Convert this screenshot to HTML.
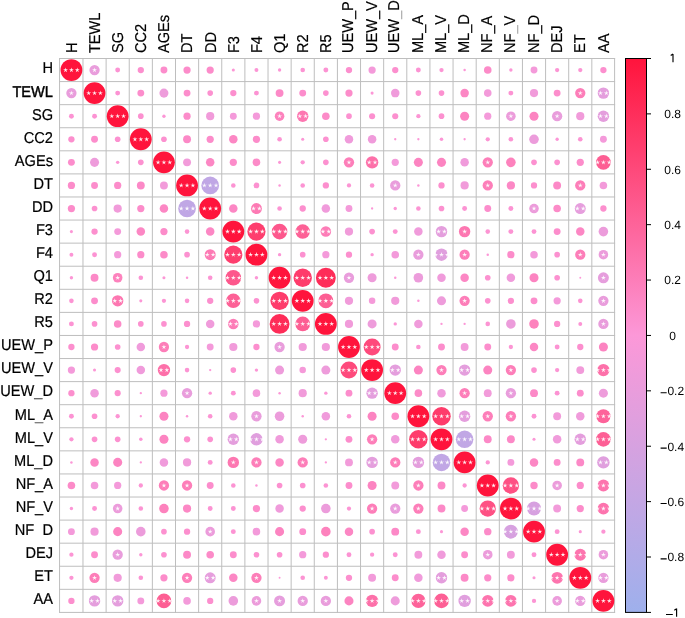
<!DOCTYPE html><html><head><meta charset="utf-8"><style>html,body{margin:0;padding:0;background:#fff;}svg{display:block;will-change:transform;}text{font-family:"Liberation Sans",sans-serif;text-rendering:geometricPrecision;}.lb{stroke:#000;stroke-width:0.2px;}</style></head><body>
<svg width="685" height="618" viewBox="0 0 685 618">
<rect width="685" height="618" fill="#fff"/>
<path d="M59.55 58.00V612.92M59.05 58.50H615.1M82.98 58.00V612.92M59.05 81.58H615.1M106.11 58.00V612.92M59.05 104.66H615.1M129.24 58.00V612.92M59.05 127.74H615.1M152.37 58.00V612.92M59.05 150.82H615.1M175.50 58.00V612.92M59.05 173.90H615.1M198.63 58.00V612.92M59.05 196.98H615.1M221.76 58.00V612.92M59.05 220.06H615.1M244.89 58.00V612.92M59.05 243.14H615.1M268.02 58.00V612.92M59.05 266.22H615.1M291.15 58.00V612.92M59.05 289.30H615.1M314.28 58.00V612.92M59.05 312.38H615.1M337.41 58.00V612.92M59.05 335.46H615.1M360.54 58.00V612.92M59.05 358.54H615.1M383.67 58.00V612.92M59.05 381.62H615.1M406.80 58.00V612.92M59.05 404.70H615.1M429.93 58.00V612.92M59.05 427.78H615.1M453.06 58.00V612.92M59.05 450.86H615.1M476.19 58.00V612.92M59.05 473.94H615.1M499.32 58.00V612.92M59.05 497.02H615.1M522.45 58.00V612.92M59.05 520.10H615.1M545.58 58.00V612.92M59.05 543.18H615.1M568.71 58.00V612.92M59.05 566.26H615.1M591.84 58.00V612.92M59.05 589.34H615.1M614.60 58.00V612.92M59.05 612.42H615.1" stroke="#bebebe" stroke-width="1" fill="none"/>
<circle cx="71.42" cy="70.04" r="10.91" fill="#ff143c"/>
<circle cx="94.55" cy="70.04" r="5.15" fill="#e99ddc"/>
<circle cx="117.67" cy="70.04" r="2.45" fill="#fc93d3"/>
<circle cx="140.81" cy="70.04" r="3.15" fill="#fc8fce"/>
<circle cx="163.94" cy="70.04" r="3.44" fill="#fc8dcc"/>
<circle cx="187.06" cy="70.04" r="3.62" fill="#fc8cca"/>
<circle cx="210.19" cy="70.04" r="3.62" fill="#fc8cca"/>
<circle cx="233.32" cy="70.04" r="1.54" fill="#fc97d6"/>
<circle cx="256.45" cy="70.04" r="1.97" fill="#fc95d5"/>
<circle cx="279.58" cy="70.04" r="1.69" fill="#fc96d6"/>
<circle cx="302.71" cy="70.04" r="2.30" fill="#fc94d3"/>
<circle cx="325.85" cy="70.04" r="2.45" fill="#fc93d3"/>
<circle cx="348.98" cy="70.04" r="3.15" fill="#fc8fce"/>
<circle cx="372.11" cy="70.04" r="3.62" fill="#f49ada"/>
<circle cx="395.24" cy="70.04" r="3.15" fill="#fc8fce"/>
<circle cx="418.37" cy="70.04" r="2.45" fill="#fc93d3"/>
<circle cx="441.50" cy="70.04" r="2.15" fill="#fc95d4"/>
<circle cx="464.62" cy="70.04" r="1.24" fill="#fc97d7"/>
<circle cx="487.75" cy="70.04" r="3.79" fill="#fc8bc8"/>
<circle cx="510.88" cy="70.04" r="1.69" fill="#fc96d6"/>
<circle cx="534.01" cy="70.04" r="3.44" fill="#f49ada"/>
<circle cx="557.14" cy="70.04" r="2.15" fill="#fc95d4"/>
<circle cx="580.27" cy="70.04" r="2.15" fill="#fc95d4"/>
<circle cx="603.40" cy="70.04" r="3.15" fill="#fc8fce"/>
<circle cx="71.42" cy="93.12" r="5.15" fill="#e99ddc"/>
<circle cx="94.55" cy="93.12" r="10.91" fill="#ff143c"/>
<circle cx="117.67" cy="93.12" r="2.45" fill="#fc93d3"/>
<circle cx="140.81" cy="93.12" r="3.44" fill="#fc8dcc"/>
<circle cx="163.94" cy="93.12" r="4.53" fill="#ee9cdb"/>
<circle cx="187.06" cy="93.12" r="3.44" fill="#fc8dcc"/>
<circle cx="210.19" cy="93.12" r="2.83" fill="#fc91d0"/>
<circle cx="233.32" cy="93.12" r="3.15" fill="#fc8fce"/>
<circle cx="256.45" cy="93.12" r="2.45" fill="#fc93d3"/>
<circle cx="279.58" cy="93.12" r="3.95" fill="#fc89c7"/>
<circle cx="302.71" cy="93.12" r="3.44" fill="#fc8dcc"/>
<circle cx="325.85" cy="93.12" r="2.83" fill="#fc91d0"/>
<circle cx="348.98" cy="93.12" r="3.62" fill="#fc8cca"/>
<circle cx="372.11" cy="93.12" r="1.54" fill="#fc97d6"/>
<circle cx="395.24" cy="93.12" r="4.25" fill="#f09bdb"/>
<circle cx="418.37" cy="93.12" r="2.83" fill="#fc91d0"/>
<circle cx="441.50" cy="93.12" r="2.83" fill="#fc91d0"/>
<circle cx="464.62" cy="93.12" r="4.25" fill="#fc87c4"/>
<circle cx="487.75" cy="93.12" r="3.79" fill="#f39ada"/>
<circle cx="510.88" cy="93.12" r="2.45" fill="#fc93d3"/>
<circle cx="534.01" cy="93.12" r="4.11" fill="#f19bda"/>
<circle cx="557.14" cy="93.12" r="3.44" fill="#fc8dcc"/>
<circle cx="580.27" cy="93.12" r="5.15" fill="#fd7eb9"/>
<circle cx="603.40" cy="93.12" r="5.70" fill="#e49edd"/>
<circle cx="71.42" cy="116.20" r="2.45" fill="#fc93d3"/>
<circle cx="94.55" cy="116.20" r="2.45" fill="#fc93d3"/>
<circle cx="117.67" cy="116.20" r="10.91" fill="#ff143c"/>
<circle cx="140.81" cy="116.20" r="2.83" fill="#fc91d0"/>
<circle cx="163.94" cy="116.20" r="1.69" fill="#fc96d6"/>
<circle cx="187.06" cy="116.20" r="3.62" fill="#fc8cca"/>
<circle cx="210.19" cy="116.20" r="4.11" fill="#f19bda"/>
<circle cx="233.32" cy="116.20" r="3.44" fill="#f49ada"/>
<circle cx="256.45" cy="116.20" r="3.62" fill="#f49ada"/>
<circle cx="279.58" cy="116.20" r="4.79" fill="#fd82bd"/>
<circle cx="302.71" cy="116.20" r="5.70" fill="#fd77b1"/>
<circle cx="325.85" cy="116.20" r="3.79" fill="#fc8bc8"/>
<circle cx="348.98" cy="116.20" r="2.83" fill="#fc91d0"/>
<circle cx="372.11" cy="116.20" r="3.05" fill="#fc90cf"/>
<circle cx="395.24" cy="116.20" r="3.05" fill="#fc90cf"/>
<circle cx="418.37" cy="116.20" r="2.15" fill="#fc95d4"/>
<circle cx="441.50" cy="116.20" r="2.83" fill="#fc91d0"/>
<circle cx="464.62" cy="116.20" r="4.53" fill="#fc84c1"/>
<circle cx="487.75" cy="116.20" r="3.62" fill="#f49ada"/>
<circle cx="510.88" cy="116.20" r="4.79" fill="#ec9cdb"/>
<circle cx="534.01" cy="116.20" r="4.53" fill="#fc84c1"/>
<circle cx="557.14" cy="116.20" r="5.15" fill="#e99ddc"/>
<circle cx="580.27" cy="116.20" r="4.11" fill="#f19bda"/>
<circle cx="603.40" cy="116.20" r="5.70" fill="#e49edd"/>
<circle cx="71.42" cy="139.28" r="3.15" fill="#fc8fce"/>
<circle cx="94.55" cy="139.28" r="3.44" fill="#fc8dcc"/>
<circle cx="117.67" cy="139.28" r="2.83" fill="#fc91d0"/>
<circle cx="140.81" cy="139.28" r="10.91" fill="#ff143c"/>
<circle cx="163.94" cy="139.28" r="2.83" fill="#fc91d0"/>
<circle cx="187.06" cy="139.28" r="3.95" fill="#fc89c7"/>
<circle cx="210.19" cy="139.28" r="3.62" fill="#fc8cca"/>
<circle cx="233.32" cy="139.28" r="4.25" fill="#fc87c4"/>
<circle cx="256.45" cy="139.28" r="3.62" fill="#fc8cca"/>
<circle cx="279.58" cy="139.28" r="2.30" fill="#fc94d3"/>
<circle cx="302.71" cy="139.28" r="1.54" fill="#fc97d6"/>
<circle cx="325.85" cy="139.28" r="2.83" fill="#fc91d0"/>
<circle cx="348.98" cy="139.28" r="4.25" fill="#f09bdb"/>
<circle cx="372.11" cy="139.28" r="4.25" fill="#f09bdb"/>
<circle cx="395.24" cy="139.28" r="1.16" fill="#fc97d7"/>
<circle cx="418.37" cy="139.28" r="1.16" fill="#fc97d7"/>
<circle cx="441.50" cy="139.28" r="1.77" fill="#fc96d6"/>
<circle cx="464.62" cy="139.28" r="1.16" fill="#fc97d7"/>
<circle cx="487.75" cy="139.28" r="2.15" fill="#fc95d4"/>
<circle cx="510.88" cy="139.28" r="2.30" fill="#fc94d3"/>
<circle cx="534.01" cy="139.28" r="4.79" fill="#ec9cdb"/>
<circle cx="557.14" cy="139.28" r="1.69" fill="#fc96d6"/>
<circle cx="580.27" cy="139.28" r="2.30" fill="#fc94d3"/>
<circle cx="603.40" cy="139.28" r="3.44" fill="#f49ada"/>
<circle cx="71.42" cy="162.36" r="3.44" fill="#fc8dcc"/>
<circle cx="94.55" cy="162.36" r="4.53" fill="#ee9cdb"/>
<circle cx="117.67" cy="162.36" r="1.69" fill="#fc96d6"/>
<circle cx="140.81" cy="162.36" r="2.83" fill="#fc91d0"/>
<circle cx="163.94" cy="162.36" r="10.91" fill="#ff143c"/>
<circle cx="187.06" cy="162.36" r="3.95" fill="#f29bda"/>
<circle cx="210.19" cy="162.36" r="4.25" fill="#fc87c4"/>
<circle cx="233.32" cy="162.36" r="3.62" fill="#fc8cca"/>
<circle cx="256.45" cy="162.36" r="3.79" fill="#fc8bc8"/>
<circle cx="279.58" cy="162.36" r="1.54" fill="#fc97d6"/>
<circle cx="302.71" cy="162.36" r="2.15" fill="#fc95d4"/>
<circle cx="325.85" cy="162.36" r="2.83" fill="#fc91d0"/>
<circle cx="348.98" cy="162.36" r="5.15" fill="#fd7eb9"/>
<circle cx="372.11" cy="162.36" r="6.20" fill="#fd70a9"/>
<circle cx="395.24" cy="162.36" r="3.62" fill="#f49ada"/>
<circle cx="418.37" cy="162.36" r="4.53" fill="#fc84c1"/>
<circle cx="441.50" cy="162.36" r="4.53" fill="#fc84c1"/>
<circle cx="464.62" cy="162.36" r="4.25" fill="#f09bdb"/>
<circle cx="487.75" cy="162.36" r="5.15" fill="#fd7eb9"/>
<circle cx="510.88" cy="162.36" r="4.79" fill="#fd82bd"/>
<circle cx="534.01" cy="162.36" r="2.83" fill="#fc91d0"/>
<circle cx="557.14" cy="162.36" r="2.83" fill="#fc91d0"/>
<circle cx="580.27" cy="162.36" r="3.62" fill="#fc8cca"/>
<circle cx="603.40" cy="162.36" r="7.40" fill="#fd5e93"/>
<circle cx="71.42" cy="185.44" r="3.62" fill="#fc8cca"/>
<circle cx="94.55" cy="185.44" r="3.44" fill="#fc8dcc"/>
<circle cx="117.67" cy="185.44" r="3.62" fill="#fc8cca"/>
<circle cx="140.81" cy="185.44" r="3.95" fill="#fc89c7"/>
<circle cx="163.94" cy="185.44" r="3.95" fill="#f29bda"/>
<circle cx="187.06" cy="185.44" r="10.91" fill="#ff143c"/>
<circle cx="210.19" cy="185.44" r="8.83" fill="#c0a7e5"/>
<circle cx="233.32" cy="185.44" r="2.30" fill="#fc94d3"/>
<circle cx="256.45" cy="185.44" r="2.83" fill="#fc91d0"/>
<circle cx="279.58" cy="185.44" r="1.24" fill="#fc97d7"/>
<circle cx="302.71" cy="185.44" r="2.30" fill="#fc94d3"/>
<circle cx="325.85" cy="185.44" r="3.15" fill="#fc8fce"/>
<circle cx="348.98" cy="185.44" r="2.15" fill="#fc95d4"/>
<circle cx="372.11" cy="185.44" r="2.30" fill="#fc94d3"/>
<circle cx="395.24" cy="185.44" r="5.15" fill="#e99ddc"/>
<circle cx="418.37" cy="185.44" r="1.24" fill="#fc97d7"/>
<circle cx="441.50" cy="185.44" r="3.15" fill="#fc8fce"/>
<circle cx="464.62" cy="185.44" r="4.11" fill="#f19bda"/>
<circle cx="487.75" cy="185.44" r="5.15" fill="#fd7eb9"/>
<circle cx="510.88" cy="185.44" r="4.11" fill="#fc88c5"/>
<circle cx="534.01" cy="185.44" r="3.15" fill="#fc8fce"/>
<circle cx="557.14" cy="185.44" r="3.95" fill="#fc89c7"/>
<circle cx="580.27" cy="185.44" r="5.15" fill="#fd7eb9"/>
<circle cx="603.40" cy="185.44" r="3.79" fill="#f39ada"/>
<circle cx="71.42" cy="208.52" r="3.62" fill="#fc8cca"/>
<circle cx="94.55" cy="208.52" r="2.83" fill="#fc91d0"/>
<circle cx="117.67" cy="208.52" r="4.11" fill="#f19bda"/>
<circle cx="140.81" cy="208.52" r="3.62" fill="#fc8cca"/>
<circle cx="163.94" cy="208.52" r="4.25" fill="#fc87c4"/>
<circle cx="187.06" cy="208.52" r="8.83" fill="#c0a7e5"/>
<circle cx="210.19" cy="208.52" r="10.91" fill="#ff143c"/>
<circle cx="233.32" cy="208.52" r="4.25" fill="#fc87c4"/>
<circle cx="256.45" cy="208.52" r="5.49" fill="#fd7ab4"/>
<circle cx="279.58" cy="208.52" r="2.30" fill="#fc94d3"/>
<circle cx="302.71" cy="208.52" r="3.15" fill="#fc8fce"/>
<circle cx="325.85" cy="208.52" r="4.25" fill="#f09bdb"/>
<circle cx="348.98" cy="208.52" r="3.44" fill="#f49ada"/>
<circle cx="372.11" cy="208.52" r="1.16" fill="#fc97d7"/>
<circle cx="395.24" cy="208.52" r="1.69" fill="#fc96d6"/>
<circle cx="418.37" cy="208.52" r="2.30" fill="#fc94d3"/>
<circle cx="441.50" cy="208.52" r="2.83" fill="#fc91d0"/>
<circle cx="464.62" cy="208.52" r="2.45" fill="#fc93d3"/>
<circle cx="487.75" cy="208.52" r="3.44" fill="#fc8dcc"/>
<circle cx="510.88" cy="208.52" r="2.45" fill="#fc93d3"/>
<circle cx="534.01" cy="208.52" r="4.79" fill="#ec9cdb"/>
<circle cx="557.14" cy="208.52" r="3.79" fill="#fc8bc8"/>
<circle cx="580.27" cy="208.52" r="5.49" fill="#e69edd"/>
<circle cx="603.40" cy="208.52" r="3.15" fill="#fc8fce"/>
<circle cx="71.42" cy="231.60" r="1.54" fill="#fc97d6"/>
<circle cx="94.55" cy="231.60" r="3.15" fill="#fc8fce"/>
<circle cx="117.67" cy="231.60" r="3.44" fill="#f49ada"/>
<circle cx="140.81" cy="231.60" r="4.25" fill="#fc87c4"/>
<circle cx="163.94" cy="231.60" r="3.62" fill="#fc8cca"/>
<circle cx="187.06" cy="231.60" r="2.30" fill="#fc94d3"/>
<circle cx="210.19" cy="231.60" r="4.25" fill="#fc87c4"/>
<circle cx="233.32" cy="231.60" r="10.91" fill="#ff143c"/>
<circle cx="256.45" cy="231.60" r="9.08" fill="#fe3e6e"/>
<circle cx="279.58" cy="231.60" r="7.79" fill="#fd578c"/>
<circle cx="302.71" cy="231.60" r="7.25" fill="#fd6196"/>
<circle cx="325.85" cy="231.60" r="5.27" fill="#fd7cb7"/>
<circle cx="348.98" cy="231.60" r="4.11" fill="#f19bda"/>
<circle cx="372.11" cy="231.60" r="2.83" fill="#fc91d0"/>
<circle cx="395.24" cy="231.60" r="2.45" fill="#fc93d3"/>
<circle cx="418.37" cy="231.60" r="4.25" fill="#f09bdb"/>
<circle cx="441.50" cy="231.60" r="5.70" fill="#e49edd"/>
<circle cx="464.62" cy="231.60" r="5.70" fill="#fd77b1"/>
<circle cx="487.75" cy="231.60" r="2.30" fill="#fc94d3"/>
<circle cx="510.88" cy="231.60" r="2.45" fill="#fc93d3"/>
<circle cx="534.01" cy="231.60" r="2.45" fill="#fc93d3"/>
<circle cx="557.14" cy="231.60" r="3.44" fill="#fc8dcc"/>
<circle cx="580.27" cy="231.60" r="4.25" fill="#fc87c4"/>
<circle cx="603.40" cy="231.60" r="4.79" fill="#ec9cdb"/>
<circle cx="71.42" cy="254.68" r="1.97" fill="#fc95d5"/>
<circle cx="94.55" cy="254.68" r="2.45" fill="#fc93d3"/>
<circle cx="117.67" cy="254.68" r="3.62" fill="#f49ada"/>
<circle cx="140.81" cy="254.68" r="3.62" fill="#fc8cca"/>
<circle cx="163.94" cy="254.68" r="3.79" fill="#fc8bc8"/>
<circle cx="187.06" cy="254.68" r="2.83" fill="#fc91d0"/>
<circle cx="210.19" cy="254.68" r="5.49" fill="#fd7ab4"/>
<circle cx="233.32" cy="254.68" r="9.08" fill="#fe3e6e"/>
<circle cx="256.45" cy="254.68" r="10.91" fill="#ff143c"/>
<circle cx="279.58" cy="254.68" r="1.69" fill="#fc96d6"/>
<circle cx="302.71" cy="254.68" r="2.83" fill="#fc91d0"/>
<circle cx="325.85" cy="254.68" r="3.62" fill="#f49ada"/>
<circle cx="348.98" cy="254.68" r="3.15" fill="#fc8fce"/>
<circle cx="372.11" cy="254.68" r="1.69" fill="#fc96d6"/>
<circle cx="395.24" cy="254.68" r="3.79" fill="#f39ada"/>
<circle cx="418.37" cy="254.68" r="5.15" fill="#e99ddc"/>
<circle cx="441.50" cy="254.68" r="6.20" fill="#e09fde"/>
<circle cx="464.62" cy="254.68" r="5.15" fill="#fd7eb9"/>
<circle cx="487.75" cy="254.68" r="1.24" fill="#fc97d7"/>
<circle cx="510.88" cy="254.68" r="3.62" fill="#fc8cca"/>
<circle cx="534.01" cy="254.68" r="3.79" fill="#f39ada"/>
<circle cx="557.14" cy="254.68" r="2.83" fill="#fc91d0"/>
<circle cx="580.27" cy="254.68" r="5.15" fill="#fd7eb9"/>
<circle cx="603.40" cy="254.68" r="4.79" fill="#ec9cdb"/>
<circle cx="71.42" cy="277.76" r="1.69" fill="#fc96d6"/>
<circle cx="94.55" cy="277.76" r="3.95" fill="#fc89c7"/>
<circle cx="117.67" cy="277.76" r="4.79" fill="#fd82bd"/>
<circle cx="140.81" cy="277.76" r="2.30" fill="#fc94d3"/>
<circle cx="163.94" cy="277.76" r="1.54" fill="#fc97d6"/>
<circle cx="187.06" cy="277.76" r="1.24" fill="#fc97d7"/>
<circle cx="210.19" cy="277.76" r="2.30" fill="#fc94d3"/>
<circle cx="233.32" cy="277.76" r="7.79" fill="#fd578c"/>
<circle cx="256.45" cy="277.76" r="1.69" fill="#fc96d6"/>
<circle cx="279.58" cy="277.76" r="10.91" fill="#ff143c"/>
<circle cx="302.71" cy="277.76" r="9.21" fill="#fe3c6b"/>
<circle cx="325.85" cy="277.76" r="9.93" fill="#fe2c58"/>
<circle cx="348.98" cy="277.76" r="5.15" fill="#e99ddc"/>
<circle cx="372.11" cy="277.76" r="4.53" fill="#ee9cdb"/>
<circle cx="395.24" cy="277.76" r="1.24" fill="#fc97d7"/>
<circle cx="418.37" cy="277.76" r="4.79" fill="#ec9cdb"/>
<circle cx="441.50" cy="277.76" r="4.25" fill="#f09bdb"/>
<circle cx="464.62" cy="277.76" r="4.25" fill="#fc87c4"/>
<circle cx="487.75" cy="277.76" r="2.83" fill="#fc91d0"/>
<circle cx="510.88" cy="277.76" r="4.25" fill="#f09bdb"/>
<circle cx="534.01" cy="277.76" r="4.53" fill="#fc84c1"/>
<circle cx="557.14" cy="277.76" r="2.83" fill="#fc91d0"/>
<circle cx="580.27" cy="277.76" r="0.97" fill="#fc98d8"/>
<circle cx="603.40" cy="277.76" r="5.49" fill="#e69edd"/>
<circle cx="71.42" cy="300.84" r="2.30" fill="#fc94d3"/>
<circle cx="94.55" cy="300.84" r="3.44" fill="#fc8dcc"/>
<circle cx="117.67" cy="300.84" r="5.70" fill="#fd77b1"/>
<circle cx="140.81" cy="300.84" r="1.54" fill="#fc97d6"/>
<circle cx="163.94" cy="300.84" r="2.15" fill="#fc95d4"/>
<circle cx="187.06" cy="300.84" r="2.30" fill="#fc94d3"/>
<circle cx="210.19" cy="300.84" r="3.15" fill="#fc8fce"/>
<circle cx="233.32" cy="300.84" r="7.25" fill="#fd6196"/>
<circle cx="256.45" cy="300.84" r="2.83" fill="#fc91d0"/>
<circle cx="279.58" cy="300.84" r="9.21" fill="#fe3c6b"/>
<circle cx="302.71" cy="300.84" r="10.91" fill="#ff143c"/>
<circle cx="325.85" cy="300.84" r="7.40" fill="#fd5e93"/>
<circle cx="348.98" cy="300.84" r="4.11" fill="#f19bda"/>
<circle cx="372.11" cy="300.84" r="3.25" fill="#f59ad9"/>
<circle cx="395.24" cy="300.84" r="4.11" fill="#f19bda"/>
<circle cx="418.37" cy="300.84" r="1.24" fill="#fc97d7"/>
<circle cx="441.50" cy="300.84" r="4.53" fill="#ee9cdb"/>
<circle cx="464.62" cy="300.84" r="5.15" fill="#fd7eb9"/>
<circle cx="487.75" cy="300.84" r="2.83" fill="#fc91d0"/>
<circle cx="510.88" cy="300.84" r="3.15" fill="#fc8fce"/>
<circle cx="534.01" cy="300.84" r="3.44" fill="#fc8dcc"/>
<circle cx="557.14" cy="300.84" r="3.62" fill="#f49ada"/>
<circle cx="580.27" cy="300.84" r="2.30" fill="#fc94d3"/>
<circle cx="603.40" cy="300.84" r="5.15" fill="#e99ddc"/>
<circle cx="71.42" cy="323.92" r="2.45" fill="#fc93d3"/>
<circle cx="94.55" cy="323.92" r="2.83" fill="#fc91d0"/>
<circle cx="117.67" cy="323.92" r="3.79" fill="#fc8bc8"/>
<circle cx="140.81" cy="323.92" r="2.83" fill="#fc91d0"/>
<circle cx="163.94" cy="323.92" r="2.83" fill="#fc91d0"/>
<circle cx="187.06" cy="323.92" r="3.15" fill="#fc8fce"/>
<circle cx="210.19" cy="323.92" r="4.25" fill="#f09bdb"/>
<circle cx="233.32" cy="323.92" r="5.27" fill="#fd7cb7"/>
<circle cx="256.45" cy="323.92" r="3.62" fill="#f49ada"/>
<circle cx="279.58" cy="323.92" r="9.93" fill="#fe2c58"/>
<circle cx="302.71" cy="323.92" r="7.40" fill="#fd5e93"/>
<circle cx="325.85" cy="323.92" r="10.91" fill="#ff143c"/>
<circle cx="348.98" cy="323.92" r="4.11" fill="#f19bda"/>
<circle cx="372.11" cy="323.92" r="4.53" fill="#ee9cdb"/>
<circle cx="395.24" cy="323.92" r="1.69" fill="#fc96d6"/>
<circle cx="418.37" cy="323.92" r="4.25" fill="#f09bdb"/>
<circle cx="441.50" cy="323.92" r="1.16" fill="#fc97d7"/>
<circle cx="464.62" cy="323.92" r="1.16" fill="#fc97d7"/>
<circle cx="487.75" cy="323.92" r="2.30" fill="#fc94d3"/>
<circle cx="510.88" cy="323.92" r="4.79" fill="#ec9cdb"/>
<circle cx="534.01" cy="323.92" r="4.79" fill="#fd82bd"/>
<circle cx="557.14" cy="323.92" r="3.15" fill="#fc8fce"/>
<circle cx="580.27" cy="323.92" r="1.97" fill="#fc95d5"/>
<circle cx="603.40" cy="323.92" r="5.15" fill="#e99ddc"/>
<circle cx="71.42" cy="347.00" r="3.15" fill="#fc8fce"/>
<circle cx="94.55" cy="347.00" r="3.62" fill="#fc8cca"/>
<circle cx="117.67" cy="347.00" r="2.83" fill="#fc91d0"/>
<circle cx="140.81" cy="347.00" r="4.25" fill="#f09bdb"/>
<circle cx="163.94" cy="347.00" r="5.15" fill="#fd7eb9"/>
<circle cx="187.06" cy="347.00" r="2.15" fill="#fc95d4"/>
<circle cx="210.19" cy="347.00" r="3.44" fill="#f49ada"/>
<circle cx="233.32" cy="347.00" r="4.11" fill="#f19bda"/>
<circle cx="256.45" cy="347.00" r="3.15" fill="#fc8fce"/>
<circle cx="279.58" cy="347.00" r="5.15" fill="#e99ddc"/>
<circle cx="302.71" cy="347.00" r="4.11" fill="#f19bda"/>
<circle cx="325.85" cy="347.00" r="4.11" fill="#f19bda"/>
<circle cx="348.98" cy="347.00" r="10.91" fill="#ff143c"/>
<circle cx="372.11" cy="347.00" r="8.49" fill="#fe4a7c"/>
<circle cx="395.24" cy="347.00" r="3.44" fill="#fc8dcc"/>
<circle cx="418.37" cy="347.00" r="2.30" fill="#fc94d3"/>
<circle cx="441.50" cy="347.00" r="3.44" fill="#fc8dcc"/>
<circle cx="464.62" cy="347.00" r="3.95" fill="#f29bda"/>
<circle cx="487.75" cy="347.00" r="3.44" fill="#fc8dcc"/>
<circle cx="510.88" cy="347.00" r="2.15" fill="#fc95d4"/>
<circle cx="534.01" cy="347.00" r="4.25" fill="#fc87c4"/>
<circle cx="557.14" cy="347.00" r="2.45" fill="#fc93d3"/>
<circle cx="580.27" cy="347.00" r="3.15" fill="#fc8fce"/>
<circle cx="603.40" cy="347.00" r="4.53" fill="#fc84c1"/>
<circle cx="71.42" cy="370.08" r="3.62" fill="#f49ada"/>
<circle cx="94.55" cy="370.08" r="1.54" fill="#fc97d6"/>
<circle cx="117.67" cy="370.08" r="3.05" fill="#fc90cf"/>
<circle cx="140.81" cy="370.08" r="4.25" fill="#f09bdb"/>
<circle cx="163.94" cy="370.08" r="6.20" fill="#fd70a9"/>
<circle cx="187.06" cy="370.08" r="2.30" fill="#fc94d3"/>
<circle cx="210.19" cy="370.08" r="1.16" fill="#fc97d7"/>
<circle cx="233.32" cy="370.08" r="2.83" fill="#fc91d0"/>
<circle cx="256.45" cy="370.08" r="1.69" fill="#fc96d6"/>
<circle cx="279.58" cy="370.08" r="4.53" fill="#ee9cdb"/>
<circle cx="302.71" cy="370.08" r="3.25" fill="#f59ad9"/>
<circle cx="325.85" cy="370.08" r="4.53" fill="#ee9cdb"/>
<circle cx="348.98" cy="370.08" r="8.49" fill="#fe4a7c"/>
<circle cx="372.11" cy="370.08" r="10.91" fill="#ff143c"/>
<circle cx="395.24" cy="370.08" r="5.70" fill="#e49edd"/>
<circle cx="418.37" cy="370.08" r="4.53" fill="#fc84c1"/>
<circle cx="441.50" cy="370.08" r="5.15" fill="#fd7eb9"/>
<circle cx="464.62" cy="370.08" r="5.70" fill="#e49edd"/>
<circle cx="487.75" cy="370.08" r="4.53" fill="#fc84c1"/>
<circle cx="510.88" cy="370.08" r="5.15" fill="#fd7eb9"/>
<circle cx="534.01" cy="370.08" r="2.83" fill="#fc91d0"/>
<circle cx="557.14" cy="370.08" r="2.15" fill="#fc95d4"/>
<circle cx="580.27" cy="370.08" r="3.95" fill="#f29bda"/>
<circle cx="603.40" cy="370.08" r="6.20" fill="#fd70a9"/>
<circle cx="71.42" cy="393.16" r="3.15" fill="#fc8fce"/>
<circle cx="94.55" cy="393.16" r="4.25" fill="#f09bdb"/>
<circle cx="117.67" cy="393.16" r="3.05" fill="#fc90cf"/>
<circle cx="140.81" cy="393.16" r="1.16" fill="#fc97d7"/>
<circle cx="163.94" cy="393.16" r="3.62" fill="#f49ada"/>
<circle cx="187.06" cy="393.16" r="5.15" fill="#e99ddc"/>
<circle cx="210.19" cy="393.16" r="1.69" fill="#fc96d6"/>
<circle cx="233.32" cy="393.16" r="2.45" fill="#fc93d3"/>
<circle cx="256.45" cy="393.16" r="3.79" fill="#f39ada"/>
<circle cx="279.58" cy="393.16" r="1.24" fill="#fc97d7"/>
<circle cx="302.71" cy="393.16" r="4.11" fill="#f19bda"/>
<circle cx="325.85" cy="393.16" r="1.69" fill="#fc96d6"/>
<circle cx="348.98" cy="393.16" r="3.44" fill="#fc8dcc"/>
<circle cx="372.11" cy="393.16" r="5.70" fill="#e49edd"/>
<circle cx="395.24" cy="393.16" r="10.91" fill="#ff143c"/>
<circle cx="418.37" cy="393.16" r="3.79" fill="#fc8bc8"/>
<circle cx="441.50" cy="393.16" r="4.25" fill="#f09bdb"/>
<circle cx="464.62" cy="393.16" r="5.15" fill="#fd7eb9"/>
<circle cx="487.75" cy="393.16" r="3.95" fill="#f29bda"/>
<circle cx="510.88" cy="393.16" r="5.15" fill="#e99ddc"/>
<circle cx="534.01" cy="393.16" r="3.95" fill="#fc89c7"/>
<circle cx="557.14" cy="393.16" r="2.45" fill="#fc93d3"/>
<circle cx="580.27" cy="393.16" r="3.44" fill="#fc8dcc"/>
<circle cx="603.40" cy="393.16" r="4.53" fill="#ee9cdb"/>
<circle cx="71.42" cy="416.24" r="2.45" fill="#fc93d3"/>
<circle cx="94.55" cy="416.24" r="2.83" fill="#fc91d0"/>
<circle cx="117.67" cy="416.24" r="2.15" fill="#fc95d4"/>
<circle cx="140.81" cy="416.24" r="1.16" fill="#fc97d7"/>
<circle cx="163.94" cy="416.24" r="4.53" fill="#fc84c1"/>
<circle cx="187.06" cy="416.24" r="1.24" fill="#fc97d7"/>
<circle cx="210.19" cy="416.24" r="2.30" fill="#fc94d3"/>
<circle cx="233.32" cy="416.24" r="4.25" fill="#f09bdb"/>
<circle cx="256.45" cy="416.24" r="5.15" fill="#e99ddc"/>
<circle cx="279.58" cy="416.24" r="4.79" fill="#ec9cdb"/>
<circle cx="302.71" cy="416.24" r="1.24" fill="#fc97d7"/>
<circle cx="325.85" cy="416.24" r="4.25" fill="#f09bdb"/>
<circle cx="348.98" cy="416.24" r="2.30" fill="#fc94d3"/>
<circle cx="372.11" cy="416.24" r="4.53" fill="#fc84c1"/>
<circle cx="395.24" cy="416.24" r="3.79" fill="#fc8bc8"/>
<circle cx="418.37" cy="416.24" r="10.91" fill="#ff143c"/>
<circle cx="441.50" cy="416.24" r="9.21" fill="#fe3c6b"/>
<circle cx="464.62" cy="416.24" r="5.70" fill="#e49edd"/>
<circle cx="487.75" cy="416.24" r="5.15" fill="#fd7eb9"/>
<circle cx="510.88" cy="416.24" r="5.15" fill="#fd7eb9"/>
<circle cx="534.01" cy="416.24" r="2.45" fill="#fc93d3"/>
<circle cx="557.14" cy="416.24" r="3.95" fill="#f29bda"/>
<circle cx="580.27" cy="416.24" r="4.25" fill="#f09bdb"/>
<circle cx="603.40" cy="416.24" r="7.08" fill="#fd639a"/>
<circle cx="71.42" cy="439.32" r="2.15" fill="#fc95d4"/>
<circle cx="94.55" cy="439.32" r="2.83" fill="#fc91d0"/>
<circle cx="117.67" cy="439.32" r="2.83" fill="#fc91d0"/>
<circle cx="140.81" cy="439.32" r="1.77" fill="#fc96d6"/>
<circle cx="163.94" cy="439.32" r="4.53" fill="#fc84c1"/>
<circle cx="187.06" cy="439.32" r="3.15" fill="#fc8fce"/>
<circle cx="210.19" cy="439.32" r="2.83" fill="#fc91d0"/>
<circle cx="233.32" cy="439.32" r="5.70" fill="#e49edd"/>
<circle cx="256.45" cy="439.32" r="6.20" fill="#e09fde"/>
<circle cx="279.58" cy="439.32" r="4.25" fill="#f09bdb"/>
<circle cx="302.71" cy="439.32" r="4.53" fill="#ee9cdb"/>
<circle cx="325.85" cy="439.32" r="1.16" fill="#fc97d7"/>
<circle cx="348.98" cy="439.32" r="3.44" fill="#fc8dcc"/>
<circle cx="372.11" cy="439.32" r="5.15" fill="#fd7eb9"/>
<circle cx="395.24" cy="439.32" r="4.25" fill="#f09bdb"/>
<circle cx="418.37" cy="439.32" r="9.21" fill="#fe3c6b"/>
<circle cx="441.50" cy="439.32" r="10.91" fill="#ff143c"/>
<circle cx="464.62" cy="439.32" r="8.76" fill="#c1a7e5"/>
<circle cx="487.75" cy="439.32" r="3.95" fill="#fc89c7"/>
<circle cx="510.88" cy="439.32" r="3.95" fill="#fc89c7"/>
<circle cx="534.01" cy="439.32" r="1.54" fill="#fc97d6"/>
<circle cx="557.14" cy="439.32" r="4.25" fill="#f09bdb"/>
<circle cx="580.27" cy="439.32" r="5.70" fill="#e49edd"/>
<circle cx="603.40" cy="439.32" r="7.33" fill="#fd5f95"/>
<circle cx="71.42" cy="462.40" r="1.24" fill="#fc97d7"/>
<circle cx="94.55" cy="462.40" r="4.25" fill="#fc87c4"/>
<circle cx="117.67" cy="462.40" r="4.53" fill="#fc84c1"/>
<circle cx="140.81" cy="462.40" r="1.16" fill="#fc97d7"/>
<circle cx="163.94" cy="462.40" r="4.25" fill="#f09bdb"/>
<circle cx="187.06" cy="462.40" r="4.11" fill="#f19bda"/>
<circle cx="210.19" cy="462.40" r="2.45" fill="#fc93d3"/>
<circle cx="233.32" cy="462.40" r="5.70" fill="#fd77b1"/>
<circle cx="256.45" cy="462.40" r="5.15" fill="#fd7eb9"/>
<circle cx="279.58" cy="462.40" r="4.25" fill="#fc87c4"/>
<circle cx="302.71" cy="462.40" r="5.15" fill="#fd7eb9"/>
<circle cx="325.85" cy="462.40" r="1.16" fill="#fc97d7"/>
<circle cx="348.98" cy="462.40" r="3.95" fill="#f29bda"/>
<circle cx="372.11" cy="462.40" r="5.70" fill="#e49edd"/>
<circle cx="395.24" cy="462.40" r="5.15" fill="#fd7eb9"/>
<circle cx="418.37" cy="462.40" r="5.70" fill="#e49edd"/>
<circle cx="441.50" cy="462.40" r="8.76" fill="#c1a7e5"/>
<circle cx="464.62" cy="462.40" r="10.91" fill="#ff143c"/>
<circle cx="487.75" cy="462.40" r="2.15" fill="#fc95d4"/>
<circle cx="510.88" cy="462.40" r="3.44" fill="#f49ada"/>
<circle cx="534.01" cy="462.40" r="4.25" fill="#fc87c4"/>
<circle cx="557.14" cy="462.40" r="3.44" fill="#fc8dcc"/>
<circle cx="580.27" cy="462.40" r="3.95" fill="#fc89c7"/>
<circle cx="603.40" cy="462.40" r="6.20" fill="#e09fde"/>
<circle cx="71.42" cy="485.48" r="3.79" fill="#fc8bc8"/>
<circle cx="94.55" cy="485.48" r="3.79" fill="#f39ada"/>
<circle cx="117.67" cy="485.48" r="3.62" fill="#f49ada"/>
<circle cx="140.81" cy="485.48" r="2.15" fill="#fc95d4"/>
<circle cx="163.94" cy="485.48" r="5.15" fill="#fd7eb9"/>
<circle cx="187.06" cy="485.48" r="5.15" fill="#fd7eb9"/>
<circle cx="210.19" cy="485.48" r="3.44" fill="#fc8dcc"/>
<circle cx="233.32" cy="485.48" r="2.30" fill="#fc94d3"/>
<circle cx="256.45" cy="485.48" r="1.24" fill="#fc97d7"/>
<circle cx="279.58" cy="485.48" r="2.83" fill="#fc91d0"/>
<circle cx="302.71" cy="485.48" r="2.83" fill="#fc91d0"/>
<circle cx="325.85" cy="485.48" r="2.30" fill="#fc94d3"/>
<circle cx="348.98" cy="485.48" r="3.44" fill="#fc8dcc"/>
<circle cx="372.11" cy="485.48" r="4.53" fill="#fc84c1"/>
<circle cx="395.24" cy="485.48" r="3.95" fill="#f29bda"/>
<circle cx="418.37" cy="485.48" r="5.15" fill="#fd7eb9"/>
<circle cx="441.50" cy="485.48" r="3.95" fill="#fc89c7"/>
<circle cx="464.62" cy="485.48" r="2.15" fill="#fc95d4"/>
<circle cx="487.75" cy="485.48" r="10.91" fill="#ff143c"/>
<circle cx="510.88" cy="485.48" r="8.15" fill="#fe5184"/>
<circle cx="534.01" cy="485.48" r="3.71" fill="#fc8bc9"/>
<circle cx="557.14" cy="485.48" r="4.79" fill="#ec9cdb"/>
<circle cx="580.27" cy="485.48" r="3.62" fill="#fc8cca"/>
<circle cx="603.40" cy="485.48" r="5.91" fill="#fd74ae"/>
<circle cx="71.42" cy="508.56" r="1.69" fill="#fc96d6"/>
<circle cx="94.55" cy="508.56" r="2.45" fill="#fc93d3"/>
<circle cx="117.67" cy="508.56" r="4.79" fill="#ec9cdb"/>
<circle cx="140.81" cy="508.56" r="2.30" fill="#fc94d3"/>
<circle cx="163.94" cy="508.56" r="4.79" fill="#fd82bd"/>
<circle cx="187.06" cy="508.56" r="4.11" fill="#fc88c5"/>
<circle cx="210.19" cy="508.56" r="2.45" fill="#fc93d3"/>
<circle cx="233.32" cy="508.56" r="2.45" fill="#fc93d3"/>
<circle cx="256.45" cy="508.56" r="3.62" fill="#fc8cca"/>
<circle cx="279.58" cy="508.56" r="4.25" fill="#f09bdb"/>
<circle cx="302.71" cy="508.56" r="3.15" fill="#fc8fce"/>
<circle cx="325.85" cy="508.56" r="4.79" fill="#ec9cdb"/>
<circle cx="348.98" cy="508.56" r="2.15" fill="#fc95d4"/>
<circle cx="372.11" cy="508.56" r="5.15" fill="#fd7eb9"/>
<circle cx="395.24" cy="508.56" r="5.15" fill="#e99ddc"/>
<circle cx="418.37" cy="508.56" r="5.15" fill="#fd7eb9"/>
<circle cx="441.50" cy="508.56" r="3.95" fill="#fc89c7"/>
<circle cx="464.62" cy="508.56" r="3.44" fill="#f49ada"/>
<circle cx="487.75" cy="508.56" r="8.15" fill="#fe5184"/>
<circle cx="510.88" cy="508.56" r="10.91" fill="#ff143c"/>
<circle cx="534.01" cy="508.56" r="7.00" fill="#d7a1e0"/>
<circle cx="557.14" cy="508.56" r="3.95" fill="#f29bda"/>
<circle cx="580.27" cy="508.56" r="3.62" fill="#fc8cca"/>
<circle cx="603.40" cy="508.56" r="5.91" fill="#fd74ae"/>
<circle cx="71.42" cy="531.64" r="3.44" fill="#f49ada"/>
<circle cx="94.55" cy="531.64" r="4.11" fill="#f19bda"/>
<circle cx="117.67" cy="531.64" r="4.53" fill="#fc84c1"/>
<circle cx="140.81" cy="531.64" r="4.79" fill="#ec9cdb"/>
<circle cx="163.94" cy="531.64" r="2.83" fill="#fc91d0"/>
<circle cx="187.06" cy="531.64" r="3.15" fill="#fc8fce"/>
<circle cx="210.19" cy="531.64" r="4.79" fill="#ec9cdb"/>
<circle cx="233.32" cy="531.64" r="2.45" fill="#fc93d3"/>
<circle cx="256.45" cy="531.64" r="3.79" fill="#f39ada"/>
<circle cx="279.58" cy="531.64" r="4.53" fill="#fc84c1"/>
<circle cx="302.71" cy="531.64" r="3.44" fill="#fc8dcc"/>
<circle cx="325.85" cy="531.64" r="4.79" fill="#fd82bd"/>
<circle cx="348.98" cy="531.64" r="4.25" fill="#fc87c4"/>
<circle cx="372.11" cy="531.64" r="2.83" fill="#fc91d0"/>
<circle cx="395.24" cy="531.64" r="3.95" fill="#fc89c7"/>
<circle cx="418.37" cy="531.64" r="2.45" fill="#fc93d3"/>
<circle cx="441.50" cy="531.64" r="1.54" fill="#fc97d6"/>
<circle cx="464.62" cy="531.64" r="4.25" fill="#fc87c4"/>
<circle cx="487.75" cy="531.64" r="3.71" fill="#fc8bc9"/>
<circle cx="510.88" cy="531.64" r="7.00" fill="#d7a1e0"/>
<circle cx="534.01" cy="531.64" r="10.91" fill="#ff143c"/>
<circle cx="557.14" cy="531.64" r="2.45" fill="#fc93d3"/>
<circle cx="580.27" cy="531.64" r="1.54" fill="#fc97d6"/>
<circle cx="603.40" cy="531.64" r="2.15" fill="#fc95d4"/>
<circle cx="71.42" cy="554.72" r="2.15" fill="#fc95d4"/>
<circle cx="94.55" cy="554.72" r="3.44" fill="#fc8dcc"/>
<circle cx="117.67" cy="554.72" r="5.15" fill="#e99ddc"/>
<circle cx="140.81" cy="554.72" r="1.69" fill="#fc96d6"/>
<circle cx="163.94" cy="554.72" r="2.83" fill="#fc91d0"/>
<circle cx="187.06" cy="554.72" r="3.95" fill="#fc89c7"/>
<circle cx="210.19" cy="554.72" r="3.79" fill="#fc8bc8"/>
<circle cx="233.32" cy="554.72" r="3.44" fill="#fc8dcc"/>
<circle cx="256.45" cy="554.72" r="2.83" fill="#fc91d0"/>
<circle cx="279.58" cy="554.72" r="2.83" fill="#fc91d0"/>
<circle cx="302.71" cy="554.72" r="3.62" fill="#f49ada"/>
<circle cx="325.85" cy="554.72" r="3.15" fill="#fc8fce"/>
<circle cx="348.98" cy="554.72" r="2.45" fill="#fc93d3"/>
<circle cx="372.11" cy="554.72" r="2.15" fill="#fc95d4"/>
<circle cx="395.24" cy="554.72" r="2.45" fill="#fc93d3"/>
<circle cx="418.37" cy="554.72" r="3.95" fill="#f29bda"/>
<circle cx="441.50" cy="554.72" r="4.25" fill="#f09bdb"/>
<circle cx="464.62" cy="554.72" r="3.44" fill="#fc8dcc"/>
<circle cx="487.75" cy="554.72" r="4.79" fill="#ec9cdb"/>
<circle cx="510.88" cy="554.72" r="3.95" fill="#f29bda"/>
<circle cx="534.01" cy="554.72" r="2.45" fill="#fc93d3"/>
<circle cx="557.14" cy="554.72" r="10.91" fill="#ff143c"/>
<circle cx="580.27" cy="554.72" r="5.91" fill="#fd74ae"/>
<circle cx="603.40" cy="554.72" r="4.79" fill="#ec9cdb"/>
<circle cx="71.42" cy="577.80" r="2.15" fill="#fc95d4"/>
<circle cx="94.55" cy="577.80" r="5.15" fill="#fd7eb9"/>
<circle cx="117.67" cy="577.80" r="4.11" fill="#f19bda"/>
<circle cx="140.81" cy="577.80" r="2.30" fill="#fc94d3"/>
<circle cx="163.94" cy="577.80" r="3.62" fill="#fc8cca"/>
<circle cx="187.06" cy="577.80" r="5.15" fill="#fd7eb9"/>
<circle cx="210.19" cy="577.80" r="5.49" fill="#e69edd"/>
<circle cx="233.32" cy="577.80" r="4.25" fill="#fc87c4"/>
<circle cx="256.45" cy="577.80" r="5.15" fill="#fd7eb9"/>
<circle cx="279.58" cy="577.80" r="0.97" fill="#fc98d8"/>
<circle cx="302.71" cy="577.80" r="2.30" fill="#fc94d3"/>
<circle cx="325.85" cy="577.80" r="1.97" fill="#fc95d5"/>
<circle cx="348.98" cy="577.80" r="3.15" fill="#fc8fce"/>
<circle cx="372.11" cy="577.80" r="3.95" fill="#f29bda"/>
<circle cx="395.24" cy="577.80" r="3.44" fill="#fc8dcc"/>
<circle cx="418.37" cy="577.80" r="4.25" fill="#f09bdb"/>
<circle cx="441.50" cy="577.80" r="5.70" fill="#e49edd"/>
<circle cx="464.62" cy="577.80" r="3.95" fill="#fc89c7"/>
<circle cx="487.75" cy="577.80" r="3.62" fill="#fc8cca"/>
<circle cx="510.88" cy="577.80" r="3.62" fill="#fc8cca"/>
<circle cx="534.01" cy="577.80" r="1.54" fill="#fc97d6"/>
<circle cx="557.14" cy="577.80" r="5.91" fill="#fd74ae"/>
<circle cx="580.27" cy="577.80" r="10.91" fill="#ff143c"/>
<circle cx="603.40" cy="577.80" r="5.15" fill="#e99ddc"/>
<circle cx="71.42" cy="600.88" r="3.15" fill="#fc8fce"/>
<circle cx="94.55" cy="600.88" r="5.70" fill="#e49edd"/>
<circle cx="117.67" cy="600.88" r="5.70" fill="#e49edd"/>
<circle cx="140.81" cy="600.88" r="3.44" fill="#f49ada"/>
<circle cx="163.94" cy="600.88" r="7.40" fill="#fd5e93"/>
<circle cx="187.06" cy="600.88" r="3.79" fill="#f39ada"/>
<circle cx="210.19" cy="600.88" r="3.15" fill="#fc8fce"/>
<circle cx="233.32" cy="600.88" r="4.79" fill="#ec9cdb"/>
<circle cx="256.45" cy="600.88" r="4.79" fill="#ec9cdb"/>
<circle cx="279.58" cy="600.88" r="5.49" fill="#e69edd"/>
<circle cx="302.71" cy="600.88" r="5.15" fill="#e99ddc"/>
<circle cx="325.85" cy="600.88" r="5.15" fill="#e99ddc"/>
<circle cx="348.98" cy="600.88" r="4.53" fill="#fc84c1"/>
<circle cx="372.11" cy="600.88" r="6.20" fill="#fd70a9"/>
<circle cx="395.24" cy="600.88" r="4.53" fill="#ee9cdb"/>
<circle cx="418.37" cy="600.88" r="7.08" fill="#fd639a"/>
<circle cx="441.50" cy="600.88" r="7.33" fill="#fd5f95"/>
<circle cx="464.62" cy="600.88" r="6.20" fill="#e09fde"/>
<circle cx="487.75" cy="600.88" r="5.91" fill="#fd74ae"/>
<circle cx="510.88" cy="600.88" r="5.91" fill="#fd74ae"/>
<circle cx="534.01" cy="600.88" r="2.15" fill="#fc95d4"/>
<circle cx="557.14" cy="600.88" r="4.79" fill="#ec9cdb"/>
<circle cx="580.27" cy="600.88" r="5.15" fill="#e99ddc"/>
<circle cx="603.40" cy="600.88" r="10.91" fill="#ff143c"/>
<path d="M65.57 67.44L66.09 69.31L68.04 69.24L66.42 70.32L67.09 72.14L65.57 70.94L64.04 72.14L64.71 70.32L63.09 69.24L65.04 69.31ZM71.42 67.44L71.94 69.31L73.89 69.24L72.27 70.32L72.94 72.14L71.42 70.94L69.89 72.14L70.56 70.32L68.94 69.24L70.89 69.31ZM77.27 67.44L77.79 69.31L79.74 69.24L78.12 70.32L78.79 72.14L77.27 70.94L75.74 72.14L76.41 70.32L74.79 69.24L76.74 69.31ZM94.55 67.44L95.07 69.31L97.02 69.24L95.40 70.32L96.07 72.14L94.55 70.94L93.02 72.14L93.69 70.32L92.07 69.24L94.02 69.31ZM71.42 90.52L71.94 92.39L73.89 92.32L72.27 93.40L72.94 95.22L71.42 94.02L69.89 95.22L70.56 93.40L68.94 92.32L70.89 92.39ZM88.70 90.52L89.22 92.39L91.17 92.32L89.55 93.40L90.22 95.22L88.70 94.02L87.17 95.22L87.84 93.40L86.22 92.32L88.17 92.39ZM94.55 90.52L95.07 92.39L97.02 92.32L95.40 93.40L96.07 95.22L94.55 94.02L93.02 95.22L93.69 93.40L92.07 92.32L94.02 92.39ZM100.39 90.52L100.92 92.39L102.87 92.32L101.25 93.40L101.92 95.22L100.39 94.02L98.87 95.22L99.54 93.40L97.92 92.32L99.87 92.39ZM580.27 90.52L580.80 92.39L582.75 92.32L581.13 93.40L581.80 95.22L580.27 94.02L578.75 95.22L579.42 93.40L577.80 92.32L579.75 92.39ZM600.48 90.52L601.01 92.39L602.95 92.32L601.34 93.40L602.01 95.22L600.48 94.02L598.95 95.22L599.62 93.40L598.01 92.32L599.95 92.39ZM606.33 90.52L606.86 92.39L608.80 92.32L607.19 93.40L607.86 95.22L606.33 94.02L604.80 95.22L605.47 93.40L603.86 92.32L605.80 92.39ZM111.83 113.60L112.35 115.47L114.30 115.40L112.68 116.48L113.35 118.30L111.83 117.10L110.30 118.30L110.97 116.48L109.35 115.40L111.30 115.47ZM117.67 113.60L118.20 115.47L120.15 115.40L118.53 116.48L119.20 118.30L117.67 117.10L116.15 118.30L116.82 116.48L115.20 115.40L117.15 115.47ZM123.52 113.60L124.05 115.47L126.00 115.40L124.38 116.48L125.05 118.30L123.52 117.10L122.00 118.30L122.67 116.48L121.05 115.40L123.00 115.47ZM279.58 113.60L280.11 115.47L282.06 115.40L280.44 116.48L281.11 118.30L279.58 117.10L278.06 118.30L278.73 116.48L277.11 115.40L279.06 115.47ZM299.79 113.60L300.32 115.47L302.26 115.40L300.65 116.48L301.32 118.30L299.79 117.10L298.26 118.30L298.93 116.48L297.32 115.40L299.26 115.47ZM305.64 113.60L306.17 115.47L308.11 115.40L306.50 116.48L307.17 118.30L305.64 117.10L304.11 118.30L304.78 116.48L303.17 115.40L305.11 115.47ZM510.88 113.60L511.41 115.47L513.36 115.40L511.74 116.48L512.41 118.30L510.88 117.10L509.36 118.30L510.03 116.48L508.41 115.40L510.36 115.47ZM557.14 113.60L557.67 115.47L559.62 115.40L558.00 116.48L558.67 118.30L557.14 117.10L555.62 118.30L556.29 116.48L554.67 115.40L556.62 115.47ZM600.48 113.60L601.01 115.47L602.95 115.40L601.34 116.48L602.01 118.30L600.48 117.10L598.95 118.30L599.62 116.48L598.01 115.40L599.95 115.47ZM606.33 113.60L606.86 115.47L608.80 115.40L607.19 116.48L607.86 118.30L606.33 117.10L604.80 118.30L605.47 116.48L603.86 115.40L605.80 115.47ZM134.96 136.68L135.48 138.55L137.43 138.48L135.81 139.56L136.48 141.38L134.96 140.18L133.43 141.38L134.10 139.56L132.48 138.48L134.43 138.55ZM140.81 136.68L141.33 138.55L143.28 138.48L141.66 139.56L142.33 141.38L140.81 140.18L139.28 141.38L139.95 139.56L138.33 138.48L140.28 138.55ZM146.66 136.68L147.18 138.55L149.13 138.48L147.51 139.56L148.18 141.38L146.66 140.18L145.13 141.38L145.80 139.56L144.18 138.48L146.13 138.55ZM158.09 159.76L158.61 161.63L160.56 161.56L158.94 162.64L159.61 164.46L158.09 163.26L156.56 164.46L157.23 162.64L155.61 161.56L157.56 161.63ZM163.94 159.76L164.46 161.63L166.41 161.56L164.79 162.64L165.46 164.46L163.94 163.26L162.41 164.46L163.08 162.64L161.46 161.56L163.41 161.63ZM169.78 159.76L170.31 161.63L172.26 161.56L170.64 162.64L171.31 164.46L169.78 163.26L168.26 164.46L168.93 162.64L167.31 161.56L169.26 161.63ZM348.98 159.76L349.50 161.63L351.45 161.56L349.83 162.64L350.50 164.46L348.98 163.26L347.45 164.46L348.12 162.64L346.50 161.56L348.45 161.63ZM369.18 159.76L369.71 161.63L371.65 161.56L370.04 162.64L370.71 164.46L369.18 163.26L367.65 164.46L368.32 162.64L366.71 161.56L368.65 161.63ZM375.03 159.76L375.56 161.63L377.50 161.56L375.89 162.64L376.56 164.46L375.03 163.26L373.50 164.46L374.17 162.64L372.56 161.56L374.50 161.63ZM487.75 159.76L488.28 161.63L490.23 161.56L488.61 162.64L489.28 164.46L487.75 163.26L486.23 164.46L486.90 162.64L485.28 161.56L487.23 161.63ZM597.55 159.76L598.08 161.63L600.03 161.56L598.41 162.64L599.08 164.46L597.55 163.26L596.03 164.46L596.70 162.64L595.08 161.56L597.03 161.63ZM603.40 159.76L603.93 161.63L605.88 161.56L604.26 162.64L604.93 164.46L603.40 163.26L601.88 164.46L602.55 162.64L600.93 161.56L602.88 161.63ZM609.25 159.76L609.78 161.63L611.73 161.56L610.11 162.64L610.78 164.46L609.25 163.26L607.73 164.46L608.40 162.64L606.78 161.56L608.73 161.63ZM181.22 182.84L181.74 184.71L183.69 184.64L182.07 185.72L182.74 187.54L181.22 186.34L179.69 187.54L180.36 185.72L178.74 184.64L180.69 184.71ZM187.06 182.84L187.59 184.71L189.54 184.64L187.92 185.72L188.59 187.54L187.06 186.34L185.54 187.54L186.21 185.72L184.59 184.64L186.54 184.71ZM192.91 182.84L193.44 184.71L195.39 184.64L193.77 185.72L194.44 187.54L192.91 186.34L191.39 187.54L192.06 185.72L190.44 184.64L192.39 184.71ZM204.34 182.84L204.87 184.71L206.82 184.64L205.20 185.72L205.87 187.54L204.34 186.34L202.82 187.54L203.49 185.72L201.87 184.64L203.82 184.71ZM210.19 182.84L210.72 184.71L212.67 184.64L211.05 185.72L211.72 187.54L210.19 186.34L208.67 187.54L209.34 185.72L207.72 184.64L209.67 184.71ZM216.04 182.84L216.57 184.71L218.52 184.64L216.90 185.72L217.57 187.54L216.04 186.34L214.52 187.54L215.19 185.72L213.57 184.64L215.52 184.71ZM395.24 182.84L395.76 184.71L397.71 184.64L396.09 185.72L396.76 187.54L395.24 186.34L393.71 187.54L394.38 185.72L392.76 184.64L394.71 184.71ZM487.75 182.84L488.28 184.71L490.23 184.64L488.61 185.72L489.28 187.54L487.75 186.34L486.23 187.54L486.90 185.72L485.28 184.64L487.23 184.71ZM580.27 182.84L580.80 184.71L582.75 184.64L581.13 185.72L581.80 187.54L580.27 186.34L578.75 187.54L579.42 185.72L577.80 184.64L579.75 184.71ZM181.22 205.92L181.74 207.79L183.69 207.72L182.07 208.80L182.74 210.62L181.22 209.42L179.69 210.62L180.36 208.80L178.74 207.72L180.69 207.79ZM187.06 205.92L187.59 207.79L189.54 207.72L187.92 208.80L188.59 210.62L187.06 209.42L185.54 210.62L186.21 208.80L184.59 207.72L186.54 207.79ZM192.91 205.92L193.44 207.79L195.39 207.72L193.77 208.80L194.44 210.62L192.91 209.42L191.39 210.62L192.06 208.80L190.44 207.72L192.39 207.79ZM204.34 205.92L204.87 207.79L206.82 207.72L205.20 208.80L205.87 210.62L204.34 209.42L202.82 210.62L203.49 208.80L201.87 207.72L203.82 207.79ZM210.19 205.92L210.72 207.79L212.67 207.72L211.05 208.80L211.72 210.62L210.19 209.42L208.67 210.62L209.34 208.80L207.72 207.72L209.67 207.79ZM216.04 205.92L216.57 207.79L218.52 207.72L216.90 208.80L217.57 210.62L216.04 209.42L214.52 210.62L215.19 208.80L213.57 207.72L215.52 207.79ZM253.53 205.92L254.06 207.79L256.00 207.72L254.39 208.80L255.06 210.62L253.53 209.42L252.00 210.62L252.67 208.80L251.06 207.72L253.00 207.79ZM259.38 205.92L259.91 207.79L261.85 207.72L260.24 208.80L260.91 210.62L259.38 209.42L257.85 210.62L258.52 208.80L256.91 207.72L258.85 207.79ZM534.01 205.92L534.54 207.79L536.49 207.72L534.87 208.80L535.54 210.62L534.01 209.42L532.49 210.62L533.16 208.80L531.54 207.72L533.49 207.79ZM577.35 205.92L577.88 207.79L579.82 207.72L578.21 208.80L578.88 210.62L577.35 209.42L575.82 210.62L576.49 208.80L574.88 207.72L576.82 207.79ZM583.20 205.92L583.73 207.79L585.67 207.72L584.06 208.80L584.73 210.62L583.20 209.42L581.67 210.62L582.34 208.80L580.73 207.72L582.67 207.79ZM227.47 229.00L228.00 230.87L229.95 230.80L228.33 231.88L229.00 233.70L227.47 232.50L225.95 233.70L226.62 231.88L225.00 230.80L226.95 230.87ZM233.32 229.00L233.85 230.87L235.80 230.80L234.18 231.88L234.85 233.70L233.32 232.50L231.80 233.70L232.47 231.88L230.85 230.80L232.80 230.87ZM239.17 229.00L239.70 230.87L241.65 230.80L240.03 231.88L240.70 233.70L239.17 232.50L237.65 233.70L238.32 231.88L236.70 230.80L238.65 230.87ZM250.60 229.00L251.13 230.87L253.08 230.80L251.46 231.88L252.13 233.70L250.60 232.50L249.08 233.70L249.75 231.88L248.13 230.80L250.08 230.87ZM256.45 229.00L256.98 230.87L258.93 230.80L257.31 231.88L257.98 233.70L256.45 232.50L254.93 233.70L255.60 231.88L253.98 230.80L255.93 230.87ZM262.31 229.00L262.83 230.87L264.78 230.80L263.16 231.88L263.83 233.70L262.31 232.50L260.78 233.70L261.45 231.88L259.83 230.80L261.78 230.87ZM273.73 229.00L274.26 230.87L276.21 230.80L274.59 231.88L275.26 233.70L273.73 232.50L272.21 233.70L272.88 231.88L271.26 230.80L273.21 230.87ZM279.58 229.00L280.11 230.87L282.06 230.80L280.44 231.88L281.11 233.70L279.58 232.50L278.06 233.70L278.73 231.88L277.11 230.80L279.06 230.87ZM285.44 229.00L285.96 230.87L287.91 230.80L286.29 231.88L286.96 233.70L285.44 232.50L283.91 233.70L284.58 231.88L282.96 230.80L284.91 230.87ZM296.86 229.00L297.39 230.87L299.34 230.80L297.72 231.88L298.39 233.70L296.86 232.50L295.34 233.70L296.01 231.88L294.39 230.80L296.34 230.87ZM302.71 229.00L303.24 230.87L305.19 230.80L303.57 231.88L304.24 233.70L302.71 232.50L301.19 233.70L301.86 231.88L300.24 230.80L302.19 230.87ZM308.56 229.00L309.09 230.87L311.04 230.80L309.42 231.88L310.09 233.70L308.56 232.50L307.04 233.70L307.71 231.88L306.09 230.80L308.04 230.87ZM322.92 229.00L323.45 230.87L325.39 230.80L323.78 231.88L324.45 233.70L322.92 232.50L321.39 233.70L322.06 231.88L320.45 230.80L322.39 230.87ZM328.77 229.00L329.30 230.87L331.24 230.80L329.63 231.88L330.30 233.70L328.77 232.50L327.24 233.70L327.91 231.88L326.30 230.80L328.24 230.87ZM438.57 229.00L439.10 230.87L441.04 230.80L439.43 231.88L440.10 233.70L438.57 232.50L437.04 233.70L437.71 231.88L436.10 230.80L438.04 230.87ZM444.42 229.00L444.95 230.87L446.89 230.80L445.28 231.88L445.95 233.70L444.42 232.50L442.89 233.70L443.56 231.88L441.95 230.80L443.89 230.87ZM464.62 229.00L465.15 230.87L467.10 230.80L465.48 231.88L466.15 233.70L464.62 232.50L463.10 233.70L463.77 231.88L462.15 230.80L464.10 230.87ZM207.27 252.08L207.80 253.95L209.74 253.88L208.13 254.96L208.80 256.78L207.27 255.58L205.74 256.78L206.41 254.96L204.80 253.88L206.74 253.95ZM213.12 252.08L213.65 253.95L215.59 253.88L213.98 254.96L214.65 256.78L213.12 255.58L211.59 256.78L212.26 254.96L210.65 253.88L212.59 253.95ZM227.47 252.08L228.00 253.95L229.95 253.88L228.33 254.96L229.00 256.78L227.47 255.58L225.95 256.78L226.62 254.96L225.00 253.88L226.95 253.95ZM233.32 252.08L233.85 253.95L235.80 253.88L234.18 254.96L234.85 256.78L233.32 255.58L231.80 256.78L232.47 254.96L230.85 253.88L232.80 253.95ZM239.17 252.08L239.70 253.95L241.65 253.88L240.03 254.96L240.70 256.78L239.17 255.58L237.65 256.78L238.32 254.96L236.70 253.88L238.65 253.95ZM250.60 252.08L251.13 253.95L253.08 253.88L251.46 254.96L252.13 256.78L250.60 255.58L249.08 256.78L249.75 254.96L248.13 253.88L250.08 253.95ZM256.45 252.08L256.98 253.95L258.93 253.88L257.31 254.96L257.98 256.78L256.45 255.58L254.93 256.78L255.60 254.96L253.98 253.88L255.93 253.95ZM262.31 252.08L262.83 253.95L264.78 253.88L263.16 254.96L263.83 256.78L262.31 255.58L260.78 256.78L261.45 254.96L259.83 253.88L261.78 253.95ZM418.37 252.08L418.89 253.95L420.84 253.88L419.22 254.96L419.89 256.78L418.37 255.58L416.84 256.78L417.51 254.96L415.89 253.88L417.84 253.95ZM435.64 252.08L436.17 253.95L438.12 253.88L436.50 254.96L437.17 256.78L435.64 255.58L434.12 256.78L434.79 254.96L433.17 253.88L435.12 253.95ZM441.50 252.08L442.02 253.95L443.97 253.88L442.35 254.96L443.02 256.78L441.50 255.58L439.97 256.78L440.64 254.96L439.02 253.88L440.97 253.95ZM447.35 252.08L447.87 253.95L449.82 253.88L448.20 254.96L448.87 256.78L447.35 255.58L445.82 256.78L446.49 254.96L444.87 253.88L446.82 253.95ZM464.62 252.08L465.15 253.95L467.10 253.88L465.48 254.96L466.15 256.78L464.62 255.58L463.10 256.78L463.77 254.96L462.15 253.88L464.10 253.95ZM580.27 252.08L580.80 253.95L582.75 253.88L581.13 254.96L581.80 256.78L580.27 255.58L578.75 256.78L579.42 254.96L577.80 253.88L579.75 253.95ZM603.40 252.08L603.93 253.95L605.88 253.88L604.26 254.96L604.93 256.78L603.40 255.58L601.88 256.78L602.55 254.96L600.93 253.88L602.88 253.95ZM117.67 275.16L118.20 277.03L120.15 276.96L118.53 278.04L119.20 279.86L117.67 278.66L116.15 279.86L116.82 278.04L115.20 276.96L117.15 277.03ZM227.47 275.16L228.00 277.03L229.95 276.96L228.33 278.04L229.00 279.86L227.47 278.66L225.95 279.86L226.62 278.04L225.00 276.96L226.95 277.03ZM233.32 275.16L233.85 277.03L235.80 276.96L234.18 278.04L234.85 279.86L233.32 278.66L231.80 279.86L232.47 278.04L230.85 276.96L232.80 277.03ZM239.17 275.16L239.70 277.03L241.65 276.96L240.03 278.04L240.70 279.86L239.17 278.66L237.65 279.86L238.32 278.04L236.70 276.96L238.65 277.03ZM273.73 275.16L274.26 277.03L276.21 276.96L274.59 278.04L275.26 279.86L273.73 278.66L272.21 279.86L272.88 278.04L271.26 276.96L273.21 277.03ZM279.58 275.16L280.11 277.03L282.06 276.96L280.44 278.04L281.11 279.86L279.58 278.66L278.06 279.86L278.73 278.04L277.11 276.96L279.06 277.03ZM285.44 275.16L285.96 277.03L287.91 276.96L286.29 278.04L286.96 279.86L285.44 278.66L283.91 279.86L284.58 278.04L282.96 276.96L284.91 277.03ZM296.86 275.16L297.39 277.03L299.34 276.96L297.72 278.04L298.39 279.86L296.86 278.66L295.34 279.86L296.01 278.04L294.39 276.96L296.34 277.03ZM302.71 275.16L303.24 277.03L305.19 276.96L303.57 278.04L304.24 279.86L302.71 278.66L301.19 279.86L301.86 278.04L300.24 276.96L302.19 277.03ZM308.56 275.16L309.09 277.03L311.04 276.96L309.42 278.04L310.09 279.86L308.56 278.66L307.04 279.86L307.71 278.04L306.09 276.96L308.04 277.03ZM320.00 275.16L320.52 277.03L322.47 276.96L320.85 278.04L321.52 279.86L320.00 278.66L318.47 279.86L319.14 278.04L317.52 276.96L319.47 277.03ZM325.85 275.16L326.37 277.03L328.32 276.96L326.70 278.04L327.37 279.86L325.85 278.66L324.32 279.86L324.99 278.04L323.37 276.96L325.32 277.03ZM331.70 275.16L332.22 277.03L334.17 276.96L332.55 278.04L333.22 279.86L331.70 278.66L330.17 279.86L330.84 278.04L329.22 276.96L331.17 277.03ZM348.98 275.16L349.50 277.03L351.45 276.96L349.83 278.04L350.50 279.86L348.98 278.66L347.45 279.86L348.12 278.04L346.50 276.96L348.45 277.03ZM603.40 275.16L603.93 277.03L605.88 276.96L604.26 278.04L604.93 279.86L603.40 278.66L601.88 279.86L602.55 278.04L600.93 276.96L602.88 277.03ZM114.75 298.24L115.28 300.11L117.22 300.04L115.61 301.12L116.28 302.94L114.75 301.74L113.22 302.94L113.89 301.12L112.28 300.04L114.22 300.11ZM120.60 298.24L121.13 300.11L123.07 300.04L121.46 301.12L122.13 302.94L120.60 301.74L119.07 302.94L119.74 301.12L118.13 300.04L120.07 300.11ZM227.47 298.24L228.00 300.11L229.95 300.04L228.33 301.12L229.00 302.94L227.47 301.74L225.95 302.94L226.62 301.12L225.00 300.04L226.95 300.11ZM233.32 298.24L233.85 300.11L235.80 300.04L234.18 301.12L234.85 302.94L233.32 301.74L231.80 302.94L232.47 301.12L230.85 300.04L232.80 300.11ZM239.17 298.24L239.70 300.11L241.65 300.04L240.03 301.12L240.70 302.94L239.17 301.74L237.65 302.94L238.32 301.12L236.70 300.04L238.65 300.11ZM273.73 298.24L274.26 300.11L276.21 300.04L274.59 301.12L275.26 302.94L273.73 301.74L272.21 302.94L272.88 301.12L271.26 300.04L273.21 300.11ZM279.58 298.24L280.11 300.11L282.06 300.04L280.44 301.12L281.11 302.94L279.58 301.74L278.06 302.94L278.73 301.12L277.11 300.04L279.06 300.11ZM285.44 298.24L285.96 300.11L287.91 300.04L286.29 301.12L286.96 302.94L285.44 301.74L283.91 302.94L284.58 301.12L282.96 300.04L284.91 300.11ZM296.86 298.24L297.39 300.11L299.34 300.04L297.72 301.12L298.39 302.94L296.86 301.74L295.34 302.94L296.01 301.12L294.39 300.04L296.34 300.11ZM302.71 298.24L303.24 300.11L305.19 300.04L303.57 301.12L304.24 302.94L302.71 301.74L301.19 302.94L301.86 301.12L300.24 300.04L302.19 300.11ZM308.56 298.24L309.09 300.11L311.04 300.04L309.42 301.12L310.09 302.94L308.56 301.74L307.04 302.94L307.71 301.12L306.09 300.04L308.04 300.11ZM320.00 298.24L320.52 300.11L322.47 300.04L320.85 301.12L321.52 302.94L320.00 301.74L318.47 302.94L319.14 301.12L317.52 300.04L319.47 300.11ZM325.85 298.24L326.37 300.11L328.32 300.04L326.70 301.12L327.37 302.94L325.85 301.74L324.32 302.94L324.99 301.12L323.37 300.04L325.32 300.11ZM331.70 298.24L332.22 300.11L334.17 300.04L332.55 301.12L333.22 302.94L331.70 301.74L330.17 302.94L330.84 301.12L329.22 300.04L331.17 300.11ZM464.62 298.24L465.15 300.11L467.10 300.04L465.48 301.12L466.15 302.94L464.62 301.74L463.10 302.94L463.77 301.12L462.15 300.04L464.10 300.11ZM603.40 298.24L603.93 300.11L605.88 300.04L604.26 301.12L604.93 302.94L603.40 301.74L601.88 302.94L602.55 301.12L600.93 300.04L602.88 300.11ZM230.40 321.32L230.93 323.19L232.87 323.12L231.26 324.20L231.93 326.02L230.40 324.82L228.87 326.02L229.54 324.20L227.93 323.12L229.87 323.19ZM236.25 321.32L236.78 323.19L238.72 323.12L237.11 324.20L237.78 326.02L236.25 324.82L234.72 326.02L235.39 324.20L233.78 323.12L235.72 323.19ZM273.73 321.32L274.26 323.19L276.21 323.12L274.59 324.20L275.26 326.02L273.73 324.82L272.21 326.02L272.88 324.20L271.26 323.12L273.21 323.19ZM279.58 321.32L280.11 323.19L282.06 323.12L280.44 324.20L281.11 326.02L279.58 324.82L278.06 326.02L278.73 324.20L277.11 323.12L279.06 323.19ZM285.44 321.32L285.96 323.19L287.91 323.12L286.29 324.20L286.96 326.02L285.44 324.82L283.91 326.02L284.58 324.20L282.96 323.12L284.91 323.19ZM296.86 321.32L297.39 323.19L299.34 323.12L297.72 324.20L298.39 326.02L296.86 324.82L295.34 326.02L296.01 324.20L294.39 323.12L296.34 323.19ZM302.71 321.32L303.24 323.19L305.19 323.12L303.57 324.20L304.24 326.02L302.71 324.82L301.19 326.02L301.86 324.20L300.24 323.12L302.19 323.19ZM308.56 321.32L309.09 323.19L311.04 323.12L309.42 324.20L310.09 326.02L308.56 324.82L307.04 326.02L307.71 324.20L306.09 323.12L308.04 323.19ZM320.00 321.32L320.52 323.19L322.47 323.12L320.85 324.20L321.52 326.02L320.00 324.82L318.47 326.02L319.14 324.20L317.52 323.12L319.47 323.19ZM325.85 321.32L326.37 323.19L328.32 323.12L326.70 324.20L327.37 326.02L325.85 324.82L324.32 326.02L324.99 324.20L323.37 323.12L325.32 323.19ZM331.70 321.32L332.22 323.19L334.17 323.12L332.55 324.20L333.22 326.02L331.70 324.82L330.17 326.02L330.84 324.20L329.22 323.12L331.17 323.19ZM603.40 321.32L603.93 323.19L605.88 323.12L604.26 324.20L604.93 326.02L603.40 324.82L601.88 326.02L602.55 324.20L600.93 323.12L602.88 323.19ZM163.94 344.40L164.46 346.27L166.41 346.20L164.79 347.28L165.46 349.10L163.94 347.90L162.41 349.10L163.08 347.28L161.46 346.20L163.41 346.27ZM279.58 344.40L280.11 346.27L282.06 346.20L280.44 347.28L281.11 349.10L279.58 347.90L278.06 349.10L278.73 347.28L277.11 346.20L279.06 346.27ZM343.12 344.40L343.65 346.27L345.60 346.20L343.98 347.28L344.65 349.10L343.12 347.90L341.60 349.10L342.27 347.28L340.65 346.20L342.60 346.27ZM348.98 344.40L349.50 346.27L351.45 346.20L349.83 347.28L350.50 349.10L348.98 347.90L347.45 349.10L348.12 347.28L346.50 346.20L348.45 346.27ZM354.83 344.40L355.35 346.27L357.30 346.20L355.68 347.28L356.35 349.10L354.83 347.90L353.30 349.10L353.97 347.28L352.35 346.20L354.30 346.27ZM366.25 344.40L366.78 346.27L368.73 346.20L367.11 347.28L367.78 349.10L366.25 347.90L364.73 349.10L365.40 347.28L363.78 346.20L365.73 346.27ZM372.11 344.40L372.63 346.27L374.58 346.20L372.96 347.28L373.63 349.10L372.11 347.90L370.58 349.10L371.25 347.28L369.63 346.20L371.58 346.27ZM377.96 344.40L378.48 346.27L380.43 346.20L378.81 347.28L379.48 349.10L377.96 347.90L376.43 349.10L377.10 347.28L375.48 346.20L377.43 346.27ZM161.01 367.48L161.54 369.35L163.48 369.28L161.87 370.36L162.54 372.18L161.01 370.98L159.48 372.18L160.15 370.36L158.54 369.28L160.48 369.35ZM166.86 367.48L167.39 369.35L169.33 369.28L167.72 370.36L168.39 372.18L166.86 370.98L165.33 372.18L166.00 370.36L164.39 369.28L166.33 369.35ZM343.12 367.48L343.65 369.35L345.60 369.28L343.98 370.36L344.65 372.18L343.12 370.98L341.60 372.18L342.27 370.36L340.65 369.28L342.60 369.35ZM348.98 367.48L349.50 369.35L351.45 369.28L349.83 370.36L350.50 372.18L348.98 370.98L347.45 372.18L348.12 370.36L346.50 369.28L348.45 369.35ZM354.83 367.48L355.35 369.35L357.30 369.28L355.68 370.36L356.35 372.18L354.83 370.98L353.30 372.18L353.97 370.36L352.35 369.28L354.30 369.35ZM366.25 367.48L366.78 369.35L368.73 369.28L367.11 370.36L367.78 372.18L366.25 370.98L364.73 372.18L365.40 370.36L363.78 369.28L365.73 369.35ZM372.11 367.48L372.63 369.35L374.58 369.28L372.96 370.36L373.63 372.18L372.11 370.98L370.58 372.18L371.25 370.36L369.63 369.28L371.58 369.35ZM377.96 367.48L378.48 369.35L380.43 369.28L378.81 370.36L379.48 372.18L377.96 370.98L376.43 372.18L377.10 370.36L375.48 369.28L377.43 369.35ZM392.31 367.48L392.84 369.35L394.78 369.28L393.17 370.36L393.84 372.18L392.31 370.98L390.78 372.18L391.45 370.36L389.84 369.28L391.78 369.35ZM398.16 367.48L398.69 369.35L400.63 369.28L399.02 370.36L399.69 372.18L398.16 370.98L396.63 372.18L397.30 370.36L395.69 369.28L397.63 369.35ZM441.50 367.48L442.02 369.35L443.97 369.28L442.35 370.36L443.02 372.18L441.50 370.98L439.97 372.18L440.64 370.36L439.02 369.28L440.97 369.35ZM461.70 367.48L462.23 369.35L464.17 369.28L462.56 370.36L463.23 372.18L461.70 370.98L460.17 372.18L460.84 370.36L459.23 369.28L461.17 369.35ZM467.55 367.48L468.08 369.35L470.02 369.28L468.41 370.36L469.08 372.18L467.55 370.98L466.02 372.18L466.69 370.36L465.08 369.28L467.02 369.35ZM510.88 367.48L511.41 369.35L513.36 369.28L511.74 370.36L512.41 372.18L510.88 370.98L509.36 372.18L510.03 370.36L508.41 369.28L510.36 369.35ZM597.55 367.48L598.08 369.35L600.03 369.28L598.41 370.36L599.08 372.18L597.55 370.98L596.03 372.18L596.70 370.36L595.08 369.28L597.03 369.35ZM603.40 367.48L603.93 369.35L605.88 369.28L604.26 370.36L604.93 372.18L603.40 370.98L601.88 372.18L602.55 370.36L600.93 369.28L602.88 369.35ZM609.25 367.48L609.78 369.35L611.73 369.28L610.11 370.36L610.78 372.18L609.25 370.98L607.73 372.18L608.40 370.36L606.78 369.28L608.73 369.35ZM187.06 390.56L187.59 392.43L189.54 392.36L187.92 393.44L188.59 395.26L187.06 394.06L185.54 395.26L186.21 393.44L184.59 392.36L186.54 392.43ZM369.18 390.56L369.71 392.43L371.65 392.36L370.04 393.44L370.71 395.26L369.18 394.06L367.65 395.26L368.32 393.44L366.71 392.36L368.65 392.43ZM375.03 390.56L375.56 392.43L377.50 392.36L375.89 393.44L376.56 395.26L375.03 394.06L373.50 395.26L374.17 393.44L372.56 392.36L374.50 392.43ZM389.38 390.56L389.91 392.43L391.86 392.36L390.24 393.44L390.91 395.26L389.38 394.06L387.86 395.26L388.53 393.44L386.91 392.36L388.86 392.43ZM395.24 390.56L395.76 392.43L397.71 392.36L396.09 393.44L396.76 395.26L395.24 394.06L393.71 395.26L394.38 393.44L392.76 392.36L394.71 392.43ZM401.09 390.56L401.61 392.43L403.56 392.36L401.94 393.44L402.61 395.26L401.09 394.06L399.56 395.26L400.23 393.44L398.61 392.36L400.56 392.43ZM464.62 390.56L465.15 392.43L467.10 392.36L465.48 393.44L466.15 395.26L464.62 394.06L463.10 395.26L463.77 393.44L462.15 392.36L464.10 392.43ZM510.88 390.56L511.41 392.43L513.36 392.36L511.74 393.44L512.41 395.26L510.88 394.06L509.36 395.26L510.03 393.44L508.41 392.36L510.36 392.43ZM256.45 413.64L256.98 415.51L258.93 415.44L257.31 416.52L257.98 418.34L256.45 417.14L254.93 418.34L255.60 416.52L253.98 415.44L255.93 415.51ZM412.51 413.64L413.04 415.51L414.99 415.44L413.37 416.52L414.04 418.34L412.51 417.14L410.99 418.34L411.66 416.52L410.04 415.44L411.99 415.51ZM418.37 413.64L418.89 415.51L420.84 415.44L419.22 416.52L419.89 418.34L418.37 417.14L416.84 418.34L417.51 416.52L415.89 415.44L417.84 415.51ZM424.22 413.64L424.74 415.51L426.69 415.44L425.07 416.52L425.74 418.34L424.22 417.14L422.69 418.34L423.36 416.52L421.74 415.44L423.69 415.51ZM435.64 413.64L436.17 415.51L438.12 415.44L436.50 416.52L437.17 418.34L435.64 417.14L434.12 418.34L434.79 416.52L433.17 415.44L435.12 415.51ZM441.50 413.64L442.02 415.51L443.97 415.44L442.35 416.52L443.02 418.34L441.50 417.14L439.97 418.34L440.64 416.52L439.02 415.44L440.97 415.51ZM447.35 413.64L447.87 415.51L449.82 415.44L448.20 416.52L448.87 418.34L447.35 417.14L445.82 418.34L446.49 416.52L444.87 415.44L446.82 415.51ZM461.70 413.64L462.23 415.51L464.17 415.44L462.56 416.52L463.23 418.34L461.70 417.14L460.17 418.34L460.84 416.52L459.23 415.44L461.17 415.51ZM467.55 413.64L468.08 415.51L470.02 415.44L468.41 416.52L469.08 418.34L467.55 417.14L466.02 418.34L466.69 416.52L465.08 415.44L467.02 415.51ZM487.75 413.64L488.28 415.51L490.23 415.44L488.61 416.52L489.28 418.34L487.75 417.14L486.23 418.34L486.90 416.52L485.28 415.44L487.23 415.51ZM510.88 413.64L511.41 415.51L513.36 415.44L511.74 416.52L512.41 418.34L510.88 417.14L509.36 418.34L510.03 416.52L508.41 415.44L510.36 415.51ZM597.55 413.64L598.08 415.51L600.03 415.44L598.41 416.52L599.08 418.34L597.55 417.14L596.03 418.34L596.70 416.52L595.08 415.44L597.03 415.51ZM603.40 413.64L603.93 415.51L605.88 415.44L604.26 416.52L604.93 418.34L603.40 417.14L601.88 418.34L602.55 416.52L600.93 415.44L602.88 415.51ZM609.25 413.64L609.78 415.51L611.73 415.44L610.11 416.52L610.78 418.34L609.25 417.14L607.73 418.34L608.40 416.52L606.78 415.44L608.73 415.51ZM230.40 436.72L230.93 438.59L232.87 438.52L231.26 439.60L231.93 441.42L230.40 440.22L228.87 441.42L229.54 439.60L227.93 438.52L229.87 438.59ZM236.25 436.72L236.78 438.59L238.72 438.52L237.11 439.60L237.78 441.42L236.25 440.22L234.72 441.42L235.39 439.60L233.78 438.52L235.72 438.59ZM250.60 436.72L251.13 438.59L253.08 438.52L251.46 439.60L252.13 441.42L250.60 440.22L249.08 441.42L249.75 439.60L248.13 438.52L250.08 438.59ZM256.45 436.72L256.98 438.59L258.93 438.52L257.31 439.60L257.98 441.42L256.45 440.22L254.93 441.42L255.60 439.60L253.98 438.52L255.93 438.59ZM262.31 436.72L262.83 438.59L264.78 438.52L263.16 439.60L263.83 441.42L262.31 440.22L260.78 441.42L261.45 439.60L259.83 438.52L261.78 438.59ZM372.11 436.72L372.63 438.59L374.58 438.52L372.96 439.60L373.63 441.42L372.11 440.22L370.58 441.42L371.25 439.60L369.63 438.52L371.58 438.59ZM412.51 436.72L413.04 438.59L414.99 438.52L413.37 439.60L414.04 441.42L412.51 440.22L410.99 441.42L411.66 439.60L410.04 438.52L411.99 438.59ZM418.37 436.72L418.89 438.59L420.84 438.52L419.22 439.60L419.89 441.42L418.37 440.22L416.84 441.42L417.51 439.60L415.89 438.52L417.84 438.59ZM424.22 436.72L424.74 438.59L426.69 438.52L425.07 439.60L425.74 441.42L424.22 440.22L422.69 441.42L423.36 439.60L421.74 438.52L423.69 438.59ZM435.64 436.72L436.17 438.59L438.12 438.52L436.50 439.60L437.17 441.42L435.64 440.22L434.12 441.42L434.79 439.60L433.17 438.52L435.12 438.59ZM441.50 436.72L442.02 438.59L443.97 438.52L442.35 439.60L443.02 441.42L441.50 440.22L439.97 441.42L440.64 439.60L439.02 438.52L440.97 438.59ZM447.35 436.72L447.87 438.59L449.82 438.52L448.20 439.60L448.87 441.42L447.35 440.22L445.82 441.42L446.49 439.60L444.87 438.52L446.82 438.59ZM458.77 436.72L459.30 438.59L461.25 438.52L459.63 439.60L460.30 441.42L458.77 440.22L457.25 441.42L457.92 439.60L456.30 438.52L458.25 438.59ZM464.62 436.72L465.15 438.59L467.10 438.52L465.48 439.60L466.15 441.42L464.62 440.22L463.10 441.42L463.77 439.60L462.15 438.52L464.10 438.59ZM470.48 436.72L471.00 438.59L472.95 438.52L471.33 439.60L472.00 441.42L470.48 440.22L468.95 441.42L469.62 439.60L468.00 438.52L469.95 438.59ZM577.35 436.72L577.88 438.59L579.82 438.52L578.21 439.60L578.88 441.42L577.35 440.22L575.82 441.42L576.49 439.60L574.88 438.52L576.82 438.59ZM583.20 436.72L583.73 438.59L585.67 438.52L584.06 439.60L584.73 441.42L583.20 440.22L581.67 441.42L582.34 439.60L580.73 438.52L582.67 438.59ZM597.55 436.72L598.08 438.59L600.03 438.52L598.41 439.60L599.08 441.42L597.55 440.22L596.03 441.42L596.70 439.60L595.08 438.52L597.03 438.59ZM603.40 436.72L603.93 438.59L605.88 438.52L604.26 439.60L604.93 441.42L603.40 440.22L601.88 441.42L602.55 439.60L600.93 438.52L602.88 438.59ZM609.25 436.72L609.78 438.59L611.73 438.52L610.11 439.60L610.78 441.42L609.25 440.22L607.73 441.42L608.40 439.60L606.78 438.52L608.73 438.59ZM233.32 459.80L233.85 461.67L235.80 461.60L234.18 462.68L234.85 464.50L233.32 463.30L231.80 464.50L232.47 462.68L230.85 461.60L232.80 461.67ZM256.45 459.80L256.98 461.67L258.93 461.60L257.31 462.68L257.98 464.50L256.45 463.30L254.93 464.50L255.60 462.68L253.98 461.60L255.93 461.67ZM302.71 459.80L303.24 461.67L305.19 461.60L303.57 462.68L304.24 464.50L302.71 463.30L301.19 464.50L301.86 462.68L300.24 461.60L302.19 461.67ZM369.18 459.80L369.71 461.67L371.65 461.60L370.04 462.68L370.71 464.50L369.18 463.30L367.65 464.50L368.32 462.68L366.71 461.60L368.65 461.67ZM375.03 459.80L375.56 461.67L377.50 461.60L375.89 462.68L376.56 464.50L375.03 463.30L373.50 464.50L374.17 462.68L372.56 461.60L374.50 461.67ZM395.24 459.80L395.76 461.67L397.71 461.60L396.09 462.68L396.76 464.50L395.24 463.30L393.71 464.50L394.38 462.68L392.76 461.60L394.71 461.67ZM415.44 459.80L415.97 461.67L417.91 461.60L416.30 462.68L416.97 464.50L415.44 463.30L413.91 464.50L414.58 462.68L412.97 461.60L414.91 461.67ZM421.29 459.80L421.82 461.67L423.76 461.60L422.15 462.68L422.82 464.50L421.29 463.30L419.76 464.50L420.43 462.68L418.82 461.60L420.76 461.67ZM435.64 459.80L436.17 461.67L438.12 461.60L436.50 462.68L437.17 464.50L435.64 463.30L434.12 464.50L434.79 462.68L433.17 461.60L435.12 461.67ZM441.50 459.80L442.02 461.67L443.97 461.60L442.35 462.68L443.02 464.50L441.50 463.30L439.97 464.50L440.64 462.68L439.02 461.60L440.97 461.67ZM447.35 459.80L447.87 461.67L449.82 461.60L448.20 462.68L448.87 464.50L447.35 463.30L445.82 464.50L446.49 462.68L444.87 461.60L446.82 461.67ZM458.77 459.80L459.30 461.67L461.25 461.60L459.63 462.68L460.30 464.50L458.77 463.30L457.25 464.50L457.92 462.68L456.30 461.60L458.25 461.67ZM464.62 459.80L465.15 461.67L467.10 461.60L465.48 462.68L466.15 464.50L464.62 463.30L463.10 464.50L463.77 462.68L462.15 461.60L464.10 461.67ZM470.48 459.80L471.00 461.67L472.95 461.60L471.33 462.68L472.00 464.50L470.48 463.30L468.95 464.50L469.62 462.68L468.00 461.60L469.95 461.67ZM600.48 459.80L601.01 461.67L602.95 461.60L601.34 462.68L602.01 464.50L600.48 463.30L598.95 464.50L599.62 462.68L598.01 461.60L599.95 461.67ZM606.33 459.80L606.86 461.67L608.80 461.60L607.19 462.68L607.86 464.50L606.33 463.30L604.80 464.50L605.47 462.68L603.86 461.60L605.80 461.67ZM163.94 482.88L164.46 484.75L166.41 484.68L164.79 485.76L165.46 487.58L163.94 486.38L162.41 487.58L163.08 485.76L161.46 484.68L163.41 484.75ZM187.06 482.88L187.59 484.75L189.54 484.68L187.92 485.76L188.59 487.58L187.06 486.38L185.54 487.58L186.21 485.76L184.59 484.68L186.54 484.75ZM418.37 482.88L418.89 484.75L420.84 484.68L419.22 485.76L419.89 487.58L418.37 486.38L416.84 487.58L417.51 485.76L415.89 484.68L417.84 484.75ZM481.90 482.88L482.43 484.75L484.38 484.68L482.76 485.76L483.43 487.58L481.90 486.38L480.38 487.58L481.05 485.76L479.43 484.68L481.38 484.75ZM487.75 482.88L488.28 484.75L490.23 484.68L488.61 485.76L489.28 487.58L487.75 486.38L486.23 487.58L486.90 485.76L485.28 484.68L487.23 484.75ZM493.61 482.88L494.13 484.75L496.08 484.68L494.46 485.76L495.13 487.58L493.61 486.38L492.08 487.58L492.75 485.76L491.13 484.68L493.08 484.75ZM505.03 482.88L505.56 484.75L507.51 484.68L505.89 485.76L506.56 487.58L505.03 486.38L503.51 487.58L504.18 485.76L502.56 484.68L504.51 484.75ZM510.88 482.88L511.41 484.75L513.36 484.68L511.74 485.76L512.41 487.58L510.88 486.38L509.36 487.58L510.03 485.76L508.41 484.68L510.36 484.75ZM516.74 482.88L517.26 484.75L519.21 484.68L517.59 485.76L518.26 487.58L516.74 486.38L515.21 487.58L515.88 485.76L514.26 484.68L516.21 484.75ZM557.14 482.88L557.67 484.75L559.62 484.68L558.00 485.76L558.67 487.58L557.14 486.38L555.62 487.58L556.29 485.76L554.67 484.68L556.62 484.75ZM597.55 482.88L598.08 484.75L600.03 484.68L598.41 485.76L599.08 487.58L597.55 486.38L596.03 487.58L596.70 485.76L595.08 484.68L597.03 484.75ZM603.40 482.88L603.93 484.75L605.88 484.68L604.26 485.76L604.93 487.58L603.40 486.38L601.88 487.58L602.55 485.76L600.93 484.68L602.88 484.75ZM609.25 482.88L609.78 484.75L611.73 484.68L610.11 485.76L610.78 487.58L609.25 486.38L607.73 487.58L608.40 485.76L606.78 484.68L608.73 484.75ZM117.67 505.96L118.20 507.83L120.15 507.76L118.53 508.84L119.20 510.66L117.67 509.46L116.15 510.66L116.82 508.84L115.20 507.76L117.15 507.83ZM372.11 505.96L372.63 507.83L374.58 507.76L372.96 508.84L373.63 510.66L372.11 509.46L370.58 510.66L371.25 508.84L369.63 507.76L371.58 507.83ZM395.24 505.96L395.76 507.83L397.71 507.76L396.09 508.84L396.76 510.66L395.24 509.46L393.71 510.66L394.38 508.84L392.76 507.76L394.71 507.83ZM418.37 505.96L418.89 507.83L420.84 507.76L419.22 508.84L419.89 510.66L418.37 509.46L416.84 510.66L417.51 508.84L415.89 507.76L417.84 507.83ZM481.90 505.96L482.43 507.83L484.38 507.76L482.76 508.84L483.43 510.66L481.90 509.46L480.38 510.66L481.05 508.84L479.43 507.76L481.38 507.83ZM487.75 505.96L488.28 507.83L490.23 507.76L488.61 508.84L489.28 510.66L487.75 509.46L486.23 510.66L486.90 508.84L485.28 507.76L487.23 507.83ZM493.61 505.96L494.13 507.83L496.08 507.76L494.46 508.84L495.13 510.66L493.61 509.46L492.08 510.66L492.75 508.84L491.13 507.76L493.08 507.83ZM505.03 505.96L505.56 507.83L507.51 507.76L505.89 508.84L506.56 510.66L505.03 509.46L503.51 510.66L504.18 508.84L502.56 507.76L504.51 507.83ZM510.88 505.96L511.41 507.83L513.36 507.76L511.74 508.84L512.41 510.66L510.88 509.46L509.36 510.66L510.03 508.84L508.41 507.76L510.36 507.83ZM516.74 505.96L517.26 507.83L519.21 507.76L517.59 508.84L518.26 510.66L516.74 509.46L515.21 510.66L515.88 508.84L514.26 507.76L516.21 507.83ZM528.16 505.96L528.69 507.83L530.64 507.76L529.02 508.84L529.69 510.66L528.16 509.46L526.64 510.66L527.31 508.84L525.69 507.76L527.64 507.83ZM534.01 505.96L534.54 507.83L536.49 507.76L534.87 508.84L535.54 510.66L534.01 509.46L532.49 510.66L533.16 508.84L531.54 507.76L533.49 507.83ZM539.87 505.96L540.39 507.83L542.34 507.76L540.72 508.84L541.39 510.66L539.87 509.46L538.34 510.66L539.01 508.84L537.39 507.76L539.34 507.83ZM597.55 505.96L598.08 507.83L600.03 507.76L598.41 508.84L599.08 510.66L597.55 509.46L596.03 510.66L596.70 508.84L595.08 507.76L597.03 507.83ZM603.40 505.96L603.93 507.83L605.88 507.76L604.26 508.84L604.93 510.66L603.40 509.46L601.88 510.66L602.55 508.84L600.93 507.76L602.88 507.83ZM609.25 505.96L609.78 507.83L611.73 507.76L610.11 508.84L610.78 510.66L609.25 509.46L607.73 510.66L608.40 508.84L606.78 507.76L608.73 507.83ZM210.19 529.04L210.72 530.91L212.67 530.84L211.05 531.92L211.72 533.74L210.19 532.54L208.67 533.74L209.34 531.92L207.72 530.84L209.67 530.91ZM505.03 529.04L505.56 530.91L507.51 530.84L505.89 531.92L506.56 533.74L505.03 532.54L503.51 533.74L504.18 531.92L502.56 530.84L504.51 530.91ZM510.88 529.04L511.41 530.91L513.36 530.84L511.74 531.92L512.41 533.74L510.88 532.54L509.36 533.74L510.03 531.92L508.41 530.84L510.36 530.91ZM516.74 529.04L517.26 530.91L519.21 530.84L517.59 531.92L518.26 533.74L516.74 532.54L515.21 533.74L515.88 531.92L514.26 530.84L516.21 530.91ZM528.16 529.04L528.69 530.91L530.64 530.84L529.02 531.92L529.69 533.74L528.16 532.54L526.64 533.74L527.31 531.92L525.69 530.84L527.64 530.91ZM534.01 529.04L534.54 530.91L536.49 530.84L534.87 531.92L535.54 533.74L534.01 532.54L532.49 533.74L533.16 531.92L531.54 530.84L533.49 530.91ZM539.87 529.04L540.39 530.91L542.34 530.84L540.72 531.92L541.39 533.74L539.87 532.54L538.34 533.74L539.01 531.92L537.39 530.84L539.34 530.91ZM117.67 552.12L118.20 553.99L120.15 553.92L118.53 555.00L119.20 556.82L117.67 555.62L116.15 556.82L116.82 555.00L115.20 553.92L117.15 553.99ZM487.75 552.12L488.28 553.99L490.23 553.92L488.61 555.00L489.28 556.82L487.75 555.62L486.23 556.82L486.90 555.00L485.28 553.92L487.23 553.99ZM551.29 552.12L551.82 553.99L553.77 553.92L552.15 555.00L552.82 556.82L551.29 555.62L549.77 556.82L550.44 555.00L548.82 553.92L550.77 553.99ZM557.14 552.12L557.67 553.99L559.62 553.92L558.00 555.00L558.67 556.82L557.14 555.62L555.62 556.82L556.29 555.00L554.67 553.92L556.62 553.99ZM563.00 552.12L563.52 553.99L565.47 553.92L563.85 555.00L564.52 556.82L563.00 555.62L561.47 556.82L562.14 555.00L560.52 553.92L562.47 553.99ZM574.42 552.12L574.95 553.99L576.90 553.92L575.28 555.00L575.95 556.82L574.42 555.62L572.90 556.82L573.57 555.00L571.95 553.92L573.90 553.99ZM580.27 552.12L580.80 553.99L582.75 553.92L581.13 555.00L581.80 556.82L580.27 555.62L578.75 556.82L579.42 555.00L577.80 553.92L579.75 553.99ZM586.12 552.12L586.65 553.99L588.60 553.92L586.98 555.00L587.65 556.82L586.12 555.62L584.60 556.82L585.27 555.00L583.65 553.92L585.60 553.99ZM603.40 552.12L603.93 553.99L605.88 553.92L604.26 555.00L604.93 556.82L603.40 555.62L601.88 556.82L602.55 555.00L600.93 553.92L602.88 553.99ZM94.55 575.20L95.07 577.07L97.02 577.00L95.40 578.08L96.07 579.90L94.55 578.70L93.02 579.90L93.69 578.08L92.07 577.00L94.02 577.07ZM187.06 575.20L187.59 577.07L189.54 577.00L187.92 578.08L188.59 579.90L187.06 578.70L185.54 579.90L186.21 578.08L184.59 577.00L186.54 577.07ZM207.27 575.20L207.80 577.07L209.74 577.00L208.13 578.08L208.80 579.90L207.27 578.70L205.74 579.90L206.41 578.08L204.80 577.00L206.74 577.07ZM213.12 575.20L213.65 577.07L215.59 577.00L213.98 578.08L214.65 579.90L213.12 578.70L211.59 579.90L212.26 578.08L210.65 577.00L212.59 577.07ZM256.45 575.20L256.98 577.07L258.93 577.00L257.31 578.08L257.98 579.90L256.45 578.70L254.93 579.90L255.60 578.08L253.98 577.00L255.93 577.07ZM438.57 575.20L439.10 577.07L441.04 577.00L439.43 578.08L440.10 579.90L438.57 578.70L437.04 579.90L437.71 578.08L436.10 577.00L438.04 577.07ZM444.42 575.20L444.95 577.07L446.89 577.00L445.28 578.08L445.95 579.90L444.42 578.70L442.89 579.90L443.56 578.08L441.95 577.00L443.89 577.07ZM551.29 575.20L551.82 577.07L553.77 577.00L552.15 578.08L552.82 579.90L551.29 578.70L549.77 579.90L550.44 578.08L548.82 577.00L550.77 577.07ZM557.14 575.20L557.67 577.07L559.62 577.00L558.00 578.08L558.67 579.90L557.14 578.70L555.62 579.90L556.29 578.08L554.67 577.00L556.62 577.07ZM563.00 575.20L563.52 577.07L565.47 577.00L563.85 578.08L564.52 579.90L563.00 578.70L561.47 579.90L562.14 578.08L560.52 577.00L562.47 577.07ZM574.42 575.20L574.95 577.07L576.90 577.00L575.28 578.08L575.95 579.90L574.42 578.70L572.90 579.90L573.57 578.08L571.95 577.00L573.90 577.07ZM580.27 575.20L580.80 577.07L582.75 577.00L581.13 578.08L581.80 579.90L580.27 578.70L578.75 579.90L579.42 578.08L577.80 577.00L579.75 577.07ZM586.12 575.20L586.65 577.07L588.60 577.00L586.98 578.08L587.65 579.90L586.12 578.70L584.60 579.90L585.27 578.08L583.65 577.00L585.60 577.07ZM600.48 575.20L601.01 577.07L602.95 577.00L601.34 578.08L602.01 579.90L600.48 578.70L598.95 579.90L599.62 578.08L598.01 577.00L599.95 577.07ZM606.33 575.20L606.86 577.07L608.80 577.00L607.19 578.08L607.86 579.90L606.33 578.70L604.80 579.90L605.47 578.08L603.86 577.00L605.80 577.07ZM91.62 598.28L92.15 600.15L94.09 600.08L92.48 601.16L93.15 602.98L91.62 601.78L90.09 602.98L90.76 601.16L89.15 600.08L91.09 600.15ZM97.47 598.28L98.00 600.15L99.94 600.08L98.33 601.16L99.00 602.98L97.47 601.78L95.94 602.98L96.61 601.16L95.00 600.08L96.94 600.15ZM114.75 598.28L115.28 600.15L117.22 600.08L115.61 601.16L116.28 602.98L114.75 601.78L113.22 602.98L113.89 601.16L112.28 600.08L114.22 600.15ZM120.60 598.28L121.13 600.15L123.07 600.08L121.46 601.16L122.13 602.98L120.60 601.78L119.07 602.98L119.74 601.16L118.13 600.08L120.07 600.15ZM158.09 598.28L158.61 600.15L160.56 600.08L158.94 601.16L159.61 602.98L158.09 601.78L156.56 602.98L157.23 601.16L155.61 600.08L157.56 600.15ZM163.94 598.28L164.46 600.15L166.41 600.08L164.79 601.16L165.46 602.98L163.94 601.78L162.41 602.98L163.08 601.16L161.46 600.08L163.41 600.15ZM169.78 598.28L170.31 600.15L172.26 600.08L170.64 601.16L171.31 602.98L169.78 601.78L168.26 602.98L168.93 601.16L167.31 600.08L169.26 600.15ZM256.45 598.28L256.98 600.15L258.93 600.08L257.31 601.16L257.98 602.98L256.45 601.78L254.93 602.98L255.60 601.16L253.98 600.08L255.93 600.15ZM279.58 598.28L280.11 600.15L282.06 600.08L280.44 601.16L281.11 602.98L279.58 601.78L278.06 602.98L278.73 601.16L277.11 600.08L279.06 600.15ZM302.71 598.28L303.24 600.15L305.19 600.08L303.57 601.16L304.24 602.98L302.71 601.78L301.19 602.98L301.86 601.16L300.24 600.08L302.19 600.15ZM325.85 598.28L326.37 600.15L328.32 600.08L326.70 601.16L327.37 602.98L325.85 601.78L324.32 602.98L324.99 601.16L323.37 600.08L325.32 600.15ZM366.25 598.28L366.78 600.15L368.73 600.08L367.11 601.16L367.78 602.98L366.25 601.78L364.73 602.98L365.40 601.16L363.78 600.08L365.73 600.15ZM372.11 598.28L372.63 600.15L374.58 600.08L372.96 601.16L373.63 602.98L372.11 601.78L370.58 602.98L371.25 601.16L369.63 600.08L371.58 600.15ZM377.96 598.28L378.48 600.15L380.43 600.08L378.81 601.16L379.48 602.98L377.96 601.78L376.43 602.98L377.10 601.16L375.48 600.08L377.43 600.15ZM412.51 598.28L413.04 600.15L414.99 600.08L413.37 601.16L414.04 602.98L412.51 601.78L410.99 602.98L411.66 601.16L410.04 600.08L411.99 600.15ZM418.37 598.28L418.89 600.15L420.84 600.08L419.22 601.16L419.89 602.98L418.37 601.78L416.84 602.98L417.51 601.16L415.89 600.08L417.84 600.15ZM424.22 598.28L424.74 600.15L426.69 600.08L425.07 601.16L425.74 602.98L424.22 601.78L422.69 602.98L423.36 601.16L421.74 600.08L423.69 600.15ZM435.64 598.28L436.17 600.15L438.12 600.08L436.50 601.16L437.17 602.98L435.64 601.78L434.12 602.98L434.79 601.16L433.17 600.08L435.12 600.15ZM441.50 598.28L442.02 600.15L443.97 600.08L442.35 601.16L443.02 602.98L441.50 601.78L439.97 602.98L440.64 601.16L439.02 600.08L440.97 600.15ZM447.35 598.28L447.87 600.15L449.82 600.08L448.20 601.16L448.87 602.98L447.35 601.78L445.82 602.98L446.49 601.16L444.87 600.08L446.82 600.15ZM461.70 598.28L462.23 600.15L464.17 600.08L462.56 601.16L463.23 602.98L461.70 601.78L460.17 602.98L460.84 601.16L459.23 600.08L461.17 600.15ZM467.55 598.28L468.08 600.15L470.02 600.08L468.41 601.16L469.08 602.98L467.55 601.78L466.02 602.98L466.69 601.16L465.08 600.08L467.02 600.15ZM481.90 598.28L482.43 600.15L484.38 600.08L482.76 601.16L483.43 602.98L481.90 601.78L480.38 602.98L481.05 601.16L479.43 600.08L481.38 600.15ZM487.75 598.28L488.28 600.15L490.23 600.08L488.61 601.16L489.28 602.98L487.75 601.78L486.23 602.98L486.90 601.16L485.28 600.08L487.23 600.15ZM493.61 598.28L494.13 600.15L496.08 600.08L494.46 601.16L495.13 602.98L493.61 601.78L492.08 602.98L492.75 601.16L491.13 600.08L493.08 600.15ZM505.03 598.28L505.56 600.15L507.51 600.08L505.89 601.16L506.56 602.98L505.03 601.78L503.51 602.98L504.18 601.16L502.56 600.08L504.51 600.15ZM510.88 598.28L511.41 600.15L513.36 600.08L511.74 601.16L512.41 602.98L510.88 601.78L509.36 602.98L510.03 601.16L508.41 600.08L510.36 600.15ZM516.74 598.28L517.26 600.15L519.21 600.08L517.59 601.16L518.26 602.98L516.74 601.78L515.21 602.98L515.88 601.16L514.26 600.08L516.21 600.15ZM557.14 598.28L557.67 600.15L559.62 600.08L558.00 601.16L558.67 602.98L557.14 601.78L555.62 602.98L556.29 601.16L554.67 600.08L556.62 600.15ZM577.35 598.28L577.88 600.15L579.82 600.08L578.21 601.16L578.88 602.98L577.35 601.78L575.82 602.98L576.49 601.16L574.88 600.08L576.82 600.15ZM583.20 598.28L583.73 600.15L585.67 600.08L584.06 601.16L584.73 602.98L583.20 601.78L581.67 602.98L582.34 601.16L580.73 600.08L582.67 600.15ZM597.55 598.28L598.08 600.15L600.03 600.08L598.41 601.16L599.08 602.98L597.55 601.78L596.03 602.98L596.70 601.16L595.08 600.08L597.03 600.15ZM603.40 598.28L603.93 600.15L605.88 600.08L604.26 601.16L604.93 602.98L603.40 601.78L601.88 602.98L602.55 601.16L600.93 600.08L602.88 600.15ZM609.25 598.28L609.78 600.15L611.73 600.08L610.11 601.16L610.78 602.98L609.25 601.78L607.73 602.98L608.40 601.16L606.78 600.08L608.73 600.15Z" fill="#fff" fill-opacity="0.92"/>
<text transform="translate(53,73.34) scale(0.9315,1)" font-size="15.7" text-anchor="end" class="lb">H</text>
<text transform="translate(53,97.02) scale(0.9315,1)" font-size="15.7" text-anchor="end" class="lb" style="stroke-width:0.45px">TEWL</text>
<text transform="translate(53,119.50) scale(0.9315,1)" font-size="15.7" text-anchor="end" class="lb">SG</text>
<text transform="translate(53,142.58) scale(0.9315,1)" font-size="15.7" text-anchor="end" class="lb">CC2</text>
<text transform="translate(53,165.66) scale(0.9315,1)" font-size="15.7" text-anchor="end" class="lb">AGEs</text>
<text transform="translate(53,188.74) scale(0.9315,1)" font-size="15.7" text-anchor="end" class="lb">DT</text>
<text transform="translate(53,211.82) scale(0.9315,1)" font-size="15.7" text-anchor="end" class="lb">DD</text>
<text transform="translate(53,234.90) scale(0.9315,1)" font-size="15.7" text-anchor="end" class="lb">F3</text>
<text transform="translate(53,257.98) scale(0.9315,1)" font-size="15.7" text-anchor="end" class="lb">F4</text>
<text transform="translate(53,281.06) scale(0.9315,1)" font-size="15.7" text-anchor="end" class="lb">Q1</text>
<text transform="translate(53,304.14) scale(0.9315,1)" font-size="15.7" text-anchor="end" class="lb">R2</text>
<text transform="translate(53,327.22) scale(0.9315,1)" font-size="15.7" text-anchor="end" class="lb">R5</text>
<text transform="translate(53,350.30) scale(0.9315,1)" font-size="15.7" text-anchor="end" class="lb">UEW_P</text>
<text transform="translate(53,373.38) scale(0.9315,1)" font-size="15.7" text-anchor="end" class="lb">UEW_V</text>
<text transform="translate(53,396.46) scale(0.9315,1)" font-size="15.7" text-anchor="end" class="lb">UEW<tspan fill-opacity="0.6" stroke-opacity="0.6">_</tspan>D</text>
<text transform="translate(53,419.54) scale(0.9315,1)" font-size="15.7" text-anchor="end" class="lb">ML<tspan fill-opacity="0.5" stroke-opacity="0.5">_</tspan>A</text>
<text transform="translate(53,442.62) scale(0.9315,1)" font-size="15.7" text-anchor="end" class="lb">ML_V</text>
<text transform="translate(53,465.70) scale(0.9315,1)" font-size="15.7" text-anchor="end" class="lb">ML<tspan fill-opacity="0.7" stroke-opacity="0.7">_</tspan>D</text>
<text transform="translate(53,488.78) scale(0.9315,1)" font-size="15.7" text-anchor="end" class="lb">NF_A</text>
<text transform="translate(53,511.86) scale(0.9315,1)" font-size="15.7" text-anchor="end" class="lb">NF_V</text>
<text transform="translate(53,534.94) scale(0.9315,1)" font-size="15.7" text-anchor="end" class="lb">NF<tspan fill-opacity="0.0" stroke-opacity="0.0">_</tspan>D</text>
<text transform="translate(53,558.02) scale(0.9315,1)" font-size="15.7" text-anchor="end" class="lb">DEJ</text>
<text transform="translate(53,581.10) scale(0.9315,1)" font-size="15.7" text-anchor="end" class="lb">ET</text>
<text transform="translate(53,604.18) scale(0.9315,1)" font-size="15.7" text-anchor="end" class="lb">AA</text>
<text transform="translate(76.82,53.1) rotate(-90) scale(0.9315,1)" font-size="15.7" class="lb">H</text>
<text transform="translate(99.95,53.1) rotate(-90) scale(0.9315,1)" font-size="15.7" class="lb">TEWL</text>
<text transform="translate(123.08,53.1) rotate(-90) scale(0.9315,1)" font-size="15.7" class="lb">SG</text>
<text transform="translate(146.21,53.1) rotate(-90) scale(0.9315,1)" font-size="15.7" class="lb">CC2</text>
<text transform="translate(169.34,53.1) rotate(-90) scale(0.9315,1)" font-size="15.7" class="lb">AGEs</text>
<text transform="translate(192.47,53.1) rotate(-90) scale(0.9315,1)" font-size="15.7" class="lb">DT</text>
<text transform="translate(215.59,53.1) rotate(-90) scale(0.9315,1)" font-size="15.7" class="lb">DD</text>
<text transform="translate(238.72,53.1) rotate(-90) scale(0.9315,1)" font-size="15.7" class="lb">F3</text>
<text transform="translate(261.85,53.1) rotate(-90) scale(0.9315,1)" font-size="15.7" class="lb">F4</text>
<text transform="translate(284.98,53.1) rotate(-90) scale(0.9315,1)" font-size="15.7" class="lb">Q1</text>
<text transform="translate(308.11,53.1) rotate(-90) scale(0.9315,1)" font-size="15.7" class="lb">R2</text>
<text transform="translate(331.25,53.1) rotate(-90) scale(0.9315,1)" font-size="15.7" class="lb">R5</text>
<text transform="translate(353.38,53.1) rotate(-90) scale(0.9315,1)" font-size="15.7" class="lb">UEW_P</text>
<text transform="translate(376.50,53.1) rotate(-90) scale(0.9315,1)" font-size="15.7" class="lb">UEW_V</text>
<text transform="translate(399.44,53.1) rotate(-90) scale(0.9315,1)" font-size="15.7" class="lb">UEW<tspan fill-opacity="0.3" stroke-opacity="0.3">_</tspan>D</text>
<text transform="translate(422.56,53.1) rotate(-90) scale(0.9315,1)" font-size="15.7" class="lb">ML_A</text>
<text transform="translate(445.89,53.1) rotate(-90) scale(0.9315,1)" font-size="15.7" class="lb">ML_V</text>
<text transform="translate(469.22,53.1) rotate(-90) scale(0.9315,1)" font-size="15.7" class="lb">ML_D</text>
<text transform="translate(492.15,53.1) rotate(-90) scale(0.9315,1)" font-size="15.7" class="lb">NF_A</text>
<text transform="translate(515.49,53.1) rotate(-90) scale(0.9315,1)" font-size="15.7" class="lb">NF<tspan fill-opacity="0.3" stroke-opacity="0.3">_</tspan>V</text>
<text transform="translate(538.62,53.1) rotate(-90) scale(0.9315,1)" font-size="15.7" class="lb">NF_D</text>
<text transform="translate(562.14,53.1) rotate(-90) scale(0.9315,1)" font-size="15.7" class="lb">DEJ</text>
<text transform="translate(585.27,53.1) rotate(-90) scale(0.9315,1)" font-size="15.7" class="lb">ET</text>
<text transform="translate(608.50,53.1) rotate(-90) scale(0.9315,1)" font-size="15.7" class="lb">AA</text>
<defs><linearGradient id="cb" x1="0" y1="0" x2="0" y2="1"><stop offset="0" stop-color="#ff143c"/><stop offset="0.5" stop-color="#fc98d8"/><stop offset="1" stop-color="#9eb0ec"/></linearGradient></defs>
<rect x="625.5" y="58.5" width="21.0" height="553.9" fill="url(#cb)" stroke="#000" stroke-width="1"/>
<text x="672.7" y="118.29" font-size="12" text-anchor="middle">0.8</text>
<text x="672.7" y="173.68" font-size="12" text-anchor="middle">0.6</text>
<text x="672.7" y="229.07" font-size="12" text-anchor="middle">0.4</text>
<text x="672.7" y="284.46" font-size="12" text-anchor="middle">0.2</text>
<text x="672.7" y="339.85" font-size="12" text-anchor="middle">0</text>
<text x="667.4" y="395.24" font-size="12">0.2</text>
<text x="667.4" y="450.63" font-size="12">0.4</text>
<text x="667.4" y="506.02" font-size="12">0.6</text>
<text x="667.4" y="561.41" font-size="12">0.8</text>
<path d="M646.5 58.50H651.0M646.5 113.89H651.0M646.5 169.28H651.0M646.5 224.67H651.0M646.5 280.06H651.0M646.5 335.45H651.0M646.5 390.84H651.0M646.5 446.23H651.0M646.5 501.62H651.0M646.5 557.01H651.0M646.5 612.40H651.0" stroke="#000" stroke-width="1" fill="none"/>
<path d="M673 53.90V62.20M670.7 55.60L673 54.10M660.6 392.74H666.7M660.6 448.13H666.7M660.6 503.52H666.7M660.6 558.91H666.7M666 614.50H672.8M676.6 608.50V616.70M674.3 610.20L676.6 608.70" stroke="#000" stroke-width="1.15" fill="none"/>
</svg></body></html>
